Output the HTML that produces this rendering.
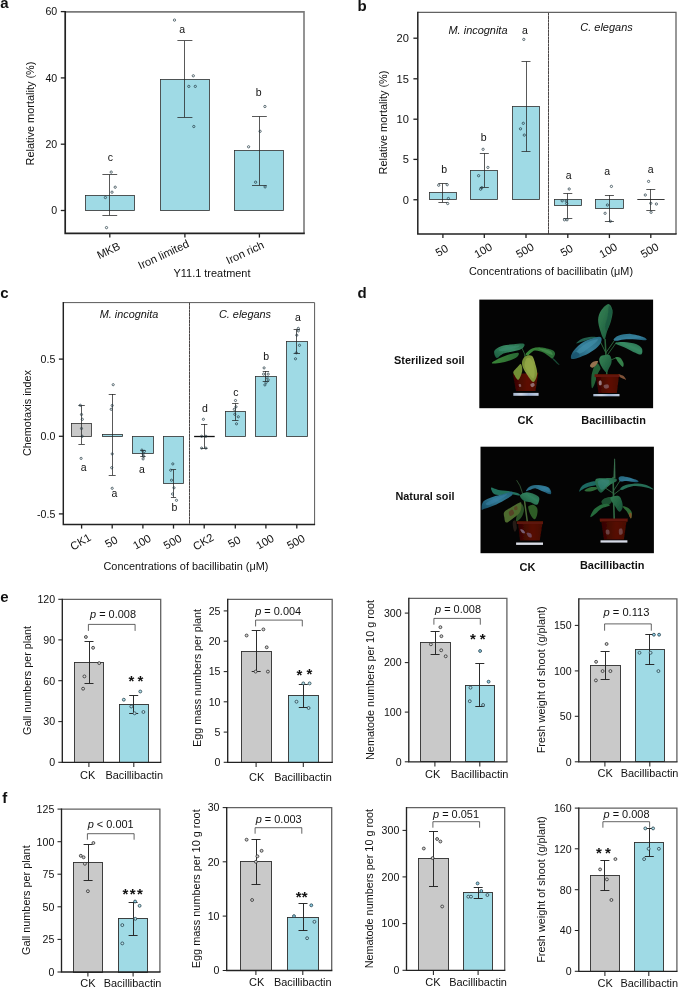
<!DOCTYPE html>
<html><head><meta charset="utf-8"><title>Figure</title>
<style>
html,body{margin:0;padding:0;background:#fff;}
body{width:685px;height:988px;overflow:hidden;}
svg{display:block;font-family:"Liberation Sans", sans-serif;will-change:transform;opacity:0.999;}
</style></head><body>
<svg width="685" height="988" viewBox="0 0 685 988">
<defs><filter id="bl" x="-5%" y="-5%" width="110%" height="110%"><feGaussianBlur stdDeviation="0.55"/><feComponentTransfer><feFuncR type="linear" slope="0.9"/><feFuncG type="linear" slope="0.9"/><feFuncB type="linear" slope="0.9"/></feComponentTransfer></filter>
<filter id="bl2" x="-5%" y="-5%" width="110%" height="110%"><feGaussianBlur stdDeviation="0.55"/><feComponentTransfer><feFuncR type="linear" slope="0.78"/><feFuncG type="linear" slope="0.78"/><feFuncB type="linear" slope="0.8"/></feComponentTransfer></filter>
<linearGradient id="gT" x1="0" y1="1" x2="1" y2="0"><stop offset="0" stop-color="#1d566e"/><stop offset="0.5" stop-color="#3a86a2"/><stop offset="1" stop-color="#2a7288"/></linearGradient>
<linearGradient id="gT2" x1="0" y1="0" x2="1" y2="1"><stop offset="0" stop-color="#2a7288"/><stop offset="0.6" stop-color="#3b88a6"/><stop offset="1" stop-color="#1f5a72"/></linearGradient>
<linearGradient id="gG" x1="0" y1="0" x2="1" y2="1"><stop offset="0" stop-color="#3a8c5c"/><stop offset="1" stop-color="#1e5a3c"/></linearGradient>
<linearGradient id="gG2" x1="0" y1="1" x2="1" y2="0"><stop offset="0" stop-color="#1f5f40"/><stop offset="0.6" stop-color="#3a9068"/><stop offset="1" stop-color="#286a4a"/></linearGradient>
<linearGradient id="gG3" x1="0" y1="0" x2="1" y2="0"><stop offset="0" stop-color="#3f8c3c"/><stop offset="1" stop-color="#2c6f3a"/></linearGradient>
<linearGradient id="gY" x1="0" y1="0" x2="1" y2="1"><stop offset="0" stop-color="#6f8a34"/><stop offset="0.5" stop-color="#96aa48"/><stop offset="1" stop-color="#7d9238"/></linearGradient>
<linearGradient id="gP" x1="0" y1="0" x2="1" y2="0"><stop offset="0" stop-color="#3c0d08"/><stop offset="0.6" stop-color="#641910"/><stop offset="1" stop-color="#521209"/></linearGradient>
<linearGradient id="gS" x1="0" y1="0" x2="1" y2="0"><stop offset="0" stop-color="#aebfd9"/><stop offset="0.3" stop-color="#d4deee"/><stop offset="0.6" stop-color="#a9bddc"/><stop offset="1" stop-color="#cad6ea"/></linearGradient>
</defs>
<rect width="685" height="988" fill="#fff"/>
<text x="0.30" y="8.40" font-size="15" text-anchor="start" fill="#111" font-weight="bold">a</text>
<rect x="85.50" y="195.50" width="49.00" height="15.00" fill="#9fdae5" stroke="#2e2e2e" stroke-width="0.8"/>
<rect x="160.50" y="79.50" width="49.00" height="131.00" fill="#9fdae5" stroke="#2e2e2e" stroke-width="0.8"/>
<rect x="234.50" y="150.50" width="49.00" height="60.00" fill="#9fdae5" stroke="#2e2e2e" stroke-width="0.8"/>
<line x1="109.50" y1="174.60" x2="109.50" y2="215.30" stroke="#222" stroke-width="0.75" />
<line x1="102.40" y1="174.50" x2="117.20" y2="174.50" stroke="#222" stroke-width="0.75" />
<line x1="102.40" y1="215.50" x2="117.20" y2="215.50" stroke="#222" stroke-width="0.75" />
<line x1="184.50" y1="40.90" x2="184.50" y2="117.20" stroke="#222" stroke-width="0.75" />
<line x1="177.40" y1="40.50" x2="192.40" y2="40.50" stroke="#222" stroke-width="0.75" />
<line x1="177.40" y1="117.50" x2="192.40" y2="117.50" stroke="#222" stroke-width="0.75" />
<line x1="259.50" y1="116.50" x2="259.50" y2="185.20" stroke="#222" stroke-width="0.75" />
<line x1="252.00" y1="116.50" x2="266.80" y2="116.50" stroke="#222" stroke-width="0.75" />
<line x1="252.00" y1="185.50" x2="266.80" y2="185.50" stroke="#222" stroke-width="0.75" />
<circle cx="111.20" cy="172.10" r="1.15" fill="none" stroke="#1f3640" stroke-width="0.7"/>
<circle cx="115.20" cy="187.20" r="1.15" fill="none" stroke="#1f3640" stroke-width="0.7"/>
<circle cx="112.00" cy="192.20" r="1.15" fill="none" stroke="#1f3640" stroke-width="0.7"/>
<circle cx="105.40" cy="197.50" r="1.15" fill="none" stroke="#1f3640" stroke-width="0.7"/>
<circle cx="106.50" cy="227.60" r="1.15" fill="none" stroke="#1f3640" stroke-width="0.7"/>
<circle cx="174.50" cy="20.10" r="1.15" fill="none" stroke="#1f3640" stroke-width="0.7"/>
<circle cx="193.30" cy="75.80" r="1.15" fill="none" stroke="#1f3640" stroke-width="0.7"/>
<circle cx="188.80" cy="86.40" r="1.15" fill="none" stroke="#1f3640" stroke-width="0.7"/>
<circle cx="195.30" cy="86.40" r="1.15" fill="none" stroke="#1f3640" stroke-width="0.7"/>
<circle cx="193.80" cy="126.50" r="1.15" fill="none" stroke="#1f3640" stroke-width="0.7"/>
<circle cx="264.90" cy="106.50" r="1.15" fill="none" stroke="#1f3640" stroke-width="0.7"/>
<circle cx="260.10" cy="131.30" r="1.15" fill="none" stroke="#1f3640" stroke-width="0.7"/>
<circle cx="248.60" cy="146.80" r="1.15" fill="none" stroke="#1f3640" stroke-width="0.7"/>
<circle cx="255.60" cy="182.20" r="1.15" fill="none" stroke="#1f3640" stroke-width="0.7"/>
<circle cx="265.10" cy="186.90" r="1.15" fill="none" stroke="#1f3640" stroke-width="0.7"/>
<text x="110.30" y="160.80" font-size="10.5" text-anchor="middle" fill="#111">c</text>
<text x="182.20" y="32.80" font-size="10.5" text-anchor="middle" fill="#111">a</text>
<text x="258.60" y="95.60" font-size="10.5" text-anchor="middle" fill="#111">b</text>
<polyline points="65.20,11.90 304.00,11.90 304.00,233.40" fill="none" stroke="#7a7a7a" stroke-width="1.6"/>
<polyline points="65.20,11.10 65.20,233.40 304.80,233.40" fill="none" stroke="#222" stroke-width="1.7"/>
<line x1="60.80" y1="11.60" x2="65.20" y2="11.60" stroke="#222" stroke-width="1.3"/>
<text x="57.20" y="15.42" font-size="10.6" text-anchor="end" fill="#111">60</text>
<line x1="60.80" y1="77.90" x2="65.20" y2="77.90" stroke="#222" stroke-width="1.3"/>
<text x="57.20" y="81.72" font-size="10.6" text-anchor="end" fill="#111">40</text>
<line x1="60.80" y1="144.20" x2="65.20" y2="144.20" stroke="#222" stroke-width="1.3"/>
<text x="57.20" y="148.02" font-size="10.6" text-anchor="end" fill="#111">20</text>
<line x1="60.80" y1="210.50" x2="65.20" y2="210.50" stroke="#222" stroke-width="1.3"/>
<text x="57.20" y="214.32" font-size="10.6" text-anchor="end" fill="#111">0</text>
<line x1="109.80" y1="233.40" x2="109.80" y2="237.60" stroke="#222" stroke-width="1.3"/>
<line x1="184.90" y1="233.40" x2="184.90" y2="237.60" stroke="#222" stroke-width="1.3"/>
<line x1="259.40" y1="233.40" x2="259.40" y2="237.60" stroke="#222" stroke-width="1.3"/>
<text x="108.50" y="250.50" font-size="11.2" text-anchor="middle" fill="#111" transform="rotate(-25 108.50 250.50)" dy="0.35em">MKB</text>
<text x="163.50" y="254.50" font-size="11.2" text-anchor="middle" fill="#111" transform="rotate(-25 163.50 254.50)" dy="0.35em">Iron limited</text>
<text x="245.00" y="252.50" font-size="11.2" text-anchor="middle" fill="#111" transform="rotate(-25 245.00 252.50)" dy="0.35em">Iron rich</text>
<text x="212.00" y="277.00" font-size="10.8" text-anchor="middle" fill="#111" textLength="77.0" lengthAdjust="spacingAndGlyphs">Y11.1 treatment</text>
<text x="30.00" y="113.50" font-size="10.8" text-anchor="middle" fill="#111" transform="rotate(-90 30.00 113.50)" textLength="104.0" lengthAdjust="spacingAndGlyphs" dy="0.35em">Relative mortality (%)</text>
<text x="357.60" y="11.00" font-size="15" text-anchor="start" fill="#111" font-weight="bold">b</text>
<rect x="429.50" y="192.50" width="27.00" height="7.00" fill="#9fdae5" stroke="#2e2e2e" stroke-width="0.8"/>
<rect x="470.50" y="170.50" width="27.00" height="29.00" fill="#9fdae5" stroke="#2e2e2e" stroke-width="0.8"/>
<rect x="512.50" y="106.50" width="27.00" height="93.00" fill="#9fdae5" stroke="#2e2e2e" stroke-width="0.8"/>
<rect x="554.50" y="199.50" width="27.00" height="6.00" fill="#9fdae5" stroke="#2e2e2e" stroke-width="0.8"/>
<rect x="595.50" y="199.50" width="28.00" height="9.00" fill="#9fdae5" stroke="#2e2e2e" stroke-width="0.8"/>
<line x1="637.30" y1="199.50" x2="664.60" y2="199.50" stroke="#222" stroke-width="0.9" />
<line x1="442.50" y1="183.40" x2="442.50" y2="202.30" stroke="#222" stroke-width="0.75" />
<line x1="438.40" y1="183.50" x2="447.40" y2="183.50" stroke="#222" stroke-width="0.75" />
<line x1="438.40" y1="202.50" x2="447.40" y2="202.50" stroke="#222" stroke-width="0.75" />
<line x1="484.50" y1="153.30" x2="484.50" y2="187.20" stroke="#222" stroke-width="0.75" />
<line x1="479.80" y1="153.50" x2="488.80" y2="153.50" stroke="#222" stroke-width="0.75" />
<line x1="479.80" y1="187.50" x2="488.80" y2="187.50" stroke="#222" stroke-width="0.75" />
<line x1="526.50" y1="61.50" x2="526.50" y2="151.50" stroke="#222" stroke-width="0.75" />
<line x1="521.50" y1="61.50" x2="530.50" y2="61.50" stroke="#222" stroke-width="0.75" />
<line x1="521.50" y1="151.50" x2="530.50" y2="151.50" stroke="#222" stroke-width="0.75" />
<line x1="567.50" y1="193.50" x2="567.50" y2="218.60" stroke="#222" stroke-width="0.75" />
<line x1="563.30" y1="193.50" x2="572.30" y2="193.50" stroke="#222" stroke-width="0.75" />
<line x1="563.30" y1="218.50" x2="572.30" y2="218.50" stroke="#222" stroke-width="0.75" />
<line x1="609.50" y1="195.20" x2="609.50" y2="221.60" stroke="#222" stroke-width="0.75" />
<line x1="604.90" y1="195.50" x2="613.90" y2="195.50" stroke="#222" stroke-width="0.75" />
<line x1="604.90" y1="221.50" x2="613.90" y2="221.50" stroke="#222" stroke-width="0.75" />
<line x1="650.50" y1="189.20" x2="650.50" y2="210.30" stroke="#222" stroke-width="0.75" />
<line x1="646.30" y1="189.50" x2="655.30" y2="189.50" stroke="#222" stroke-width="0.75" />
<line x1="646.30" y1="210.50" x2="655.30" y2="210.50" stroke="#222" stroke-width="0.75" />
<circle cx="438.70" cy="185.20" r="1.15" fill="none" stroke="#1f3640" stroke-width="0.7"/>
<circle cx="447.20" cy="184.70" r="1.15" fill="none" stroke="#1f3640" stroke-width="0.7"/>
<circle cx="448.40" cy="198.50" r="1.15" fill="none" stroke="#1f3640" stroke-width="0.7"/>
<circle cx="447.70" cy="203.50" r="1.15" fill="none" stroke="#1f3640" stroke-width="0.7"/>
<circle cx="483.10" cy="149.30" r="1.15" fill="none" stroke="#1f3640" stroke-width="0.7"/>
<circle cx="487.90" cy="167.40" r="1.15" fill="none" stroke="#1f3640" stroke-width="0.7"/>
<circle cx="478.60" cy="175.70" r="1.15" fill="none" stroke="#1f3640" stroke-width="0.7"/>
<circle cx="481.80" cy="187.70" r="1.15" fill="none" stroke="#1f3640" stroke-width="0.7"/>
<circle cx="480.60" cy="189.20" r="1.15" fill="none" stroke="#1f3640" stroke-width="0.7"/>
<circle cx="523.80" cy="39.40" r="1.15" fill="none" stroke="#1f3640" stroke-width="0.7"/>
<circle cx="523.30" cy="123.30" r="1.15" fill="none" stroke="#1f3640" stroke-width="0.7"/>
<circle cx="520.50" cy="128.80" r="1.15" fill="none" stroke="#1f3640" stroke-width="0.7"/>
<circle cx="524.30" cy="135.10" r="1.15" fill="none" stroke="#1f3640" stroke-width="0.7"/>
<circle cx="569.20" cy="189.00" r="1.15" fill="none" stroke="#1f3640" stroke-width="0.7"/>
<circle cx="562.20" cy="200.80" r="1.15" fill="none" stroke="#1f3640" stroke-width="0.7"/>
<circle cx="566.20" cy="201.00" r="1.15" fill="none" stroke="#1f3640" stroke-width="0.7"/>
<circle cx="566.70" cy="203.50" r="1.15" fill="none" stroke="#1f3640" stroke-width="0.7"/>
<circle cx="564.50" cy="219.80" r="1.15" fill="none" stroke="#1f3640" stroke-width="0.7"/>
<circle cx="567.00" cy="219.80" r="1.15" fill="none" stroke="#1f3640" stroke-width="0.7"/>
<circle cx="611.40" cy="186.40" r="1.15" fill="none" stroke="#1f3640" stroke-width="0.7"/>
<circle cx="607.40" cy="205.00" r="1.15" fill="none" stroke="#1f3640" stroke-width="0.7"/>
<circle cx="605.10" cy="213.30" r="1.15" fill="none" stroke="#1f3640" stroke-width="0.7"/>
<circle cx="610.40" cy="221.30" r="1.15" fill="none" stroke="#1f3640" stroke-width="0.7"/>
<circle cx="648.60" cy="181.40" r="1.15" fill="none" stroke="#1f3640" stroke-width="0.7"/>
<circle cx="645.30" cy="195.00" r="1.15" fill="none" stroke="#1f3640" stroke-width="0.7"/>
<circle cx="650.80" cy="203.30" r="1.15" fill="none" stroke="#1f3640" stroke-width="0.7"/>
<circle cx="656.40" cy="204.00" r="1.15" fill="none" stroke="#1f3640" stroke-width="0.7"/>
<circle cx="651.10" cy="212.30" r="1.15" fill="none" stroke="#1f3640" stroke-width="0.7"/>
<text x="444.20" y="172.90" font-size="10.5" text-anchor="middle" fill="#111">b</text>
<text x="483.60" y="141.00" font-size="10.5" text-anchor="middle" fill="#111">b</text>
<text x="524.80" y="33.90" font-size="10.5" text-anchor="middle" fill="#111">a</text>
<text x="568.70" y="179.20" font-size="10.5" text-anchor="middle" fill="#111">a</text>
<text x="607.10" y="174.60" font-size="10.5" text-anchor="middle" fill="#111">a</text>
<text x="650.60" y="172.90" font-size="10.5" text-anchor="middle" fill="#111">a</text>
<text x="478.00" y="33.90" font-size="10.8" text-anchor="middle" fill="#111" font-style="italic" textLength="59.0" lengthAdjust="spacingAndGlyphs">M. incognita</text>
<text x="606.50" y="31.10" font-size="10.8" text-anchor="middle" fill="#111" font-style="italic" textLength="52.5" lengthAdjust="spacingAndGlyphs">C. elegans</text>
<line x1="548.50" y1="12.40" x2="548.50" y2="233.90" stroke="#4a4545" stroke-width="1.0" stroke-dasharray="3.2 0.25"/>
<polyline points="417.80,12.40 676.00,12.40 676.00,233.90" fill="none" stroke="#626262" stroke-width="1.3"/>
<polyline points="417.80,11.75 417.80,233.90 676.65,233.90" fill="none" stroke="#222" stroke-width="1.5"/>
<line x1="413.40" y1="38.20" x2="417.80" y2="38.20" stroke="#222" stroke-width="1.3"/>
<text x="408.90" y="42.20" font-size="11.1" text-anchor="end" fill="#111">20</text>
<line x1="413.40" y1="78.80" x2="417.80" y2="78.80" stroke="#222" stroke-width="1.3"/>
<text x="408.90" y="82.80" font-size="11.1" text-anchor="end" fill="#111">15</text>
<line x1="413.40" y1="119.20" x2="417.80" y2="119.20" stroke="#222" stroke-width="1.3"/>
<text x="408.90" y="123.20" font-size="11.1" text-anchor="end" fill="#111">10</text>
<line x1="413.40" y1="159.40" x2="417.80" y2="159.40" stroke="#222" stroke-width="1.3"/>
<text x="408.90" y="163.40" font-size="11.1" text-anchor="end" fill="#111">5</text>
<line x1="413.40" y1="199.75" x2="417.80" y2="199.75" stroke="#222" stroke-width="1.3"/>
<text x="408.90" y="203.75" font-size="11.1" text-anchor="end" fill="#111">0</text>
<line x1="442.90" y1="233.90" x2="442.90" y2="238.10" stroke="#222" stroke-width="1.3"/>
<line x1="484.30" y1="233.90" x2="484.30" y2="238.10" stroke="#222" stroke-width="1.3"/>
<line x1="526.00" y1="233.90" x2="526.00" y2="238.10" stroke="#222" stroke-width="1.3"/>
<line x1="567.80" y1="233.90" x2="567.80" y2="238.10" stroke="#222" stroke-width="1.3"/>
<line x1="609.40" y1="233.90" x2="609.40" y2="238.10" stroke="#222" stroke-width="1.3"/>
<line x1="650.80" y1="233.90" x2="650.80" y2="238.10" stroke="#222" stroke-width="1.3"/>
<text x="441.70" y="250.40" font-size="11.2" text-anchor="middle" fill="#111" transform="rotate(-30 441.70 250.40)" dy="0.35em">50</text>
<text x="483.10" y="250.40" font-size="11.2" text-anchor="middle" fill="#111" transform="rotate(-30 483.10 250.40)" dy="0.35em">100</text>
<text x="524.80" y="250.40" font-size="11.2" text-anchor="middle" fill="#111" transform="rotate(-30 524.80 250.40)" dy="0.35em">500</text>
<text x="566.60" y="250.40" font-size="11.2" text-anchor="middle" fill="#111" transform="rotate(-30 566.60 250.40)" dy="0.35em">50</text>
<text x="608.20" y="250.40" font-size="11.2" text-anchor="middle" fill="#111" transform="rotate(-30 608.20 250.40)" dy="0.35em">100</text>
<text x="649.60" y="250.40" font-size="11.2" text-anchor="middle" fill="#111" transform="rotate(-30 649.60 250.40)" dy="0.35em">500</text>
<text x="551.00" y="275.20" font-size="10.8" text-anchor="middle" fill="#111" textLength="164.0" lengthAdjust="spacingAndGlyphs">Concentrations of bacillibatin (μM)</text>
<text x="383.20" y="122.50" font-size="10.8" text-anchor="middle" fill="#111" transform="rotate(-90 383.20 122.50)" textLength="104.0" lengthAdjust="spacingAndGlyphs" dy="0.35em">Relative mortality (%)</text>
<text x="0.30" y="297.60" font-size="15" text-anchor="start" fill="#111" font-weight="bold">c</text>
<rect x="71.50" y="423.50" width="20.00" height="13.00" fill="#c9c9c9" stroke="#2e2e2e" stroke-width="0.8"/>
<rect x="102.50" y="434.50" width="20.00" height="2.00" fill="#9fdae5" stroke="#2e2e2e" stroke-width="0.8"/>
<rect x="132.50" y="436.50" width="21.00" height="17.00" fill="#9fdae5" stroke="#2e2e2e" stroke-width="0.8"/>
<rect x="163.50" y="436.50" width="20.00" height="47.00" fill="#9fdae5" stroke="#2e2e2e" stroke-width="0.8"/>
<line x1="194.10" y1="436.50" x2="214.70" y2="436.50" stroke="#111" stroke-width="1.3" />
<rect x="225.50" y="411.50" width="20.00" height="25.00" fill="#9fdae5" stroke="#2e2e2e" stroke-width="0.8"/>
<rect x="255.50" y="376.50" width="21.00" height="60.00" fill="#9fdae5" stroke="#2e2e2e" stroke-width="0.8"/>
<rect x="286.50" y="341.50" width="21.00" height="95.00" fill="#9fdae5" stroke="#2e2e2e" stroke-width="0.8"/>
<line x1="81.50" y1="405.50" x2="81.50" y2="444.10" stroke="#222" stroke-width="0.75" />
<line x1="78.40" y1="405.50" x2="84.80" y2="405.50" stroke="#222" stroke-width="0.75" />
<line x1="78.40" y1="444.50" x2="84.80" y2="444.50" stroke="#222" stroke-width="0.75" />
<line x1="112.50" y1="394.00" x2="112.50" y2="475.20" stroke="#222" stroke-width="0.75" />
<line x1="108.70" y1="394.50" x2="115.70" y2="394.50" stroke="#222" stroke-width="0.75" />
<line x1="108.70" y1="475.50" x2="115.70" y2="475.50" stroke="#222" stroke-width="0.75" />
<line x1="142.50" y1="450.10" x2="142.50" y2="456.40" stroke="#222" stroke-width="0.75" />
<line x1="140.30" y1="450.50" x2="145.50" y2="450.50" stroke="#222" stroke-width="0.75" />
<line x1="140.30" y1="456.50" x2="145.50" y2="456.50" stroke="#222" stroke-width="0.75" />
<line x1="173.50" y1="469.70" x2="173.50" y2="497.30" stroke="#222" stroke-width="0.75" />
<line x1="170.90" y1="469.50" x2="176.10" y2="469.50" stroke="#222" stroke-width="0.75" />
<line x1="170.90" y1="497.50" x2="176.10" y2="497.50" stroke="#222" stroke-width="0.75" />
<line x1="204.50" y1="424.00" x2="204.50" y2="448.10" stroke="#222" stroke-width="0.75" />
<line x1="201.00" y1="424.50" x2="207.40" y2="424.50" stroke="#222" stroke-width="0.75" />
<line x1="201.00" y1="448.50" x2="207.40" y2="448.50" stroke="#222" stroke-width="0.75" />
<line x1="235.50" y1="403.50" x2="235.50" y2="420.60" stroke="#222" stroke-width="0.75" />
<line x1="232.10" y1="403.50" x2="238.50" y2="403.50" stroke="#222" stroke-width="0.75" />
<line x1="232.10" y1="420.50" x2="238.50" y2="420.50" stroke="#222" stroke-width="0.75" />
<line x1="265.50" y1="371.10" x2="265.50" y2="381.70" stroke="#222" stroke-width="0.75" />
<line x1="262.70" y1="371.50" x2="269.10" y2="371.50" stroke="#222" stroke-width="0.75" />
<line x1="262.70" y1="381.50" x2="269.10" y2="381.50" stroke="#222" stroke-width="0.75" />
<line x1="296.50" y1="329.70" x2="296.50" y2="353.80" stroke="#222" stroke-width="0.75" />
<line x1="293.60" y1="329.50" x2="300.00" y2="329.50" stroke="#222" stroke-width="0.75" />
<line x1="293.60" y1="353.50" x2="300.00" y2="353.50" stroke="#222" stroke-width="0.75" />
<circle cx="80.30" cy="405.30" r="1.1" fill="none" stroke="#1f3640" stroke-width="0.7"/>
<circle cx="81.50" cy="414.50" r="1.1" fill="none" stroke="#1f3640" stroke-width="0.7"/>
<circle cx="82.30" cy="419.30" r="1.1" fill="none" stroke="#1f3640" stroke-width="0.7"/>
<circle cx="81.50" cy="428.50" r="1.1" fill="none" stroke="#1f3640" stroke-width="0.7"/>
<circle cx="82.20" cy="436.30" r="1.1" fill="none" stroke="#1f3640" stroke-width="0.7"/>
<circle cx="81.10" cy="458.40" r="1.1" fill="none" stroke="#1f3640" stroke-width="0.7"/>
<circle cx="113.20" cy="384.70" r="1.1" fill="none" stroke="#1f3640" stroke-width="0.7"/>
<circle cx="112.20" cy="405.50" r="1.1" fill="none" stroke="#1f3640" stroke-width="0.7"/>
<circle cx="111.20" cy="409.30" r="1.1" fill="none" stroke="#1f3640" stroke-width="0.7"/>
<circle cx="112.20" cy="453.90" r="1.1" fill="none" stroke="#1f3640" stroke-width="0.7"/>
<circle cx="111.70" cy="467.70" r="1.1" fill="none" stroke="#1f3640" stroke-width="0.7"/>
<circle cx="112.20" cy="488.30" r="1.1" fill="none" stroke="#1f3640" stroke-width="0.7"/>
<circle cx="141.90" cy="450.10" r="1.1" fill="none" stroke="#1f3640" stroke-width="0.7"/>
<circle cx="144.40" cy="451.40" r="1.1" fill="none" stroke="#1f3640" stroke-width="0.7"/>
<circle cx="143.10" cy="453.90" r="1.1" fill="none" stroke="#1f3640" stroke-width="0.7"/>
<circle cx="143.60" cy="456.40" r="1.1" fill="none" stroke="#1f3640" stroke-width="0.7"/>
<circle cx="143.10" cy="458.90" r="1.1" fill="none" stroke="#1f3640" stroke-width="0.7"/>
<circle cx="172.80" cy="463.90" r="1.1" fill="none" stroke="#1f3640" stroke-width="0.7"/>
<circle cx="170.70" cy="470.20" r="1.1" fill="none" stroke="#1f3640" stroke-width="0.7"/>
<circle cx="171.50" cy="480.20" r="1.1" fill="none" stroke="#1f3640" stroke-width="0.7"/>
<circle cx="174.00" cy="487.80" r="1.1" fill="none" stroke="#1f3640" stroke-width="0.7"/>
<circle cx="172.50" cy="494.00" r="1.1" fill="none" stroke="#1f3640" stroke-width="0.7"/>
<circle cx="176.50" cy="500.30" r="1.1" fill="none" stroke="#1f3640" stroke-width="0.7"/>
<circle cx="203.40" cy="419.30" r="1.1" fill="none" stroke="#1f3640" stroke-width="0.7"/>
<circle cx="201.60" cy="436.30" r="1.1" fill="none" stroke="#1f3640" stroke-width="0.7"/>
<circle cx="205.90" cy="436.30" r="1.1" fill="none" stroke="#1f3640" stroke-width="0.7"/>
<circle cx="201.60" cy="448.10" r="1.1" fill="none" stroke="#1f3640" stroke-width="0.7"/>
<circle cx="205.90" cy="448.10" r="1.1" fill="none" stroke="#1f3640" stroke-width="0.7"/>
<circle cx="235.50" cy="400.50" r="1.1" fill="none" stroke="#1f3640" stroke-width="0.7"/>
<circle cx="234.30" cy="409.30" r="1.1" fill="none" stroke="#1f3640" stroke-width="0.7"/>
<circle cx="236.00" cy="406.80" r="1.1" fill="none" stroke="#1f3640" stroke-width="0.7"/>
<circle cx="234.80" cy="414.30" r="1.1" fill="none" stroke="#1f3640" stroke-width="0.7"/>
<circle cx="238.30" cy="416.80" r="1.1" fill="none" stroke="#1f3640" stroke-width="0.7"/>
<circle cx="236.50" cy="423.80" r="1.1" fill="none" stroke="#1f3640" stroke-width="0.7"/>
<circle cx="264.10" cy="367.90" r="1.1" fill="none" stroke="#1f3640" stroke-width="0.7"/>
<circle cx="263.60" cy="374.10" r="1.1" fill="none" stroke="#1f3640" stroke-width="0.7"/>
<circle cx="268.20" cy="374.10" r="1.1" fill="none" stroke="#1f3640" stroke-width="0.7"/>
<circle cx="266.90" cy="377.40" r="1.1" fill="none" stroke="#1f3640" stroke-width="0.7"/>
<circle cx="268.20" cy="379.90" r="1.1" fill="none" stroke="#1f3640" stroke-width="0.7"/>
<circle cx="266.10" cy="382.40" r="1.1" fill="none" stroke="#1f3640" stroke-width="0.7"/>
<circle cx="264.90" cy="384.90" r="1.1" fill="none" stroke="#1f3640" stroke-width="0.7"/>
<circle cx="298.30" cy="328.40" r="1.1" fill="none" stroke="#1f3640" stroke-width="0.7"/>
<circle cx="298.30" cy="330.90" r="1.1" fill="none" stroke="#1f3640" stroke-width="0.7"/>
<circle cx="296.80" cy="335.20" r="1.1" fill="none" stroke="#1f3640" stroke-width="0.7"/>
<circle cx="299.50" cy="345.30" r="1.1" fill="none" stroke="#1f3640" stroke-width="0.7"/>
<circle cx="296.30" cy="352.80" r="1.1" fill="none" stroke="#1f3640" stroke-width="0.7"/>
<circle cx="295.50" cy="358.80" r="1.1" fill="none" stroke="#1f3640" stroke-width="0.7"/>
<text x="83.60" y="471.00" font-size="10.5" text-anchor="middle" fill="#111">a</text>
<text x="114.50" y="497.30" font-size="10.5" text-anchor="middle" fill="#111">a</text>
<text x="141.90" y="472.70" font-size="10.5" text-anchor="middle" fill="#111">a</text>
<text x="174.50" y="511.10" font-size="10.5" text-anchor="middle" fill="#111">b</text>
<text x="204.90" y="411.80" font-size="10.5" text-anchor="middle" fill="#111">d</text>
<text x="235.80" y="395.50" font-size="10.5" text-anchor="middle" fill="#111">c</text>
<text x="266.10" y="359.60" font-size="10.5" text-anchor="middle" fill="#111">b</text>
<text x="298.00" y="320.70" font-size="10.5" text-anchor="middle" fill="#111">a</text>
<text x="129.00" y="318.40" font-size="10.8" text-anchor="middle" fill="#111" font-style="italic" textLength="58.5" lengthAdjust="spacingAndGlyphs">M. incognita</text>
<text x="245.00" y="318.40" font-size="10.8" text-anchor="middle" fill="#111" font-style="italic" textLength="52.2" lengthAdjust="spacingAndGlyphs">C. elegans</text>
<line x1="189.50" y1="302.60" x2="189.50" y2="524.40" stroke="#4a4545" stroke-width="1.0" stroke-dasharray="3.2 0.25"/>
<polyline points="63.30,302.60 314.60,302.60 314.60,524.40" fill="none" stroke="#5a5a5a" stroke-width="1.0"/>
<polyline points="63.30,302.10 63.30,524.40 315.10,524.40" fill="none" stroke="#222" stroke-width="1.45"/>
<line x1="58.90" y1="359.10" x2="63.30" y2="359.10" stroke="#222" stroke-width="1.3"/>
<text x="55.30" y="362.92" font-size="10.6" text-anchor="end" fill="#111">0.5</text>
<line x1="58.90" y1="436.30" x2="63.30" y2="436.30" stroke="#222" stroke-width="1.3"/>
<text x="55.30" y="440.12" font-size="10.6" text-anchor="end" fill="#111">0.0</text>
<line x1="58.90" y1="513.90" x2="63.30" y2="513.90" stroke="#222" stroke-width="1.3"/>
<text x="55.30" y="517.72" font-size="10.6" text-anchor="end" fill="#111">-0.5</text>
<line x1="81.60" y1="524.40" x2="81.60" y2="528.60" stroke="#222" stroke-width="1.3"/>
<line x1="112.20" y1="524.40" x2="112.20" y2="528.60" stroke="#222" stroke-width="1.3"/>
<line x1="142.90" y1="524.40" x2="142.90" y2="528.60" stroke="#222" stroke-width="1.3"/>
<line x1="173.50" y1="524.40" x2="173.50" y2="528.60" stroke="#222" stroke-width="1.3"/>
<line x1="204.20" y1="524.40" x2="204.20" y2="528.60" stroke="#222" stroke-width="1.3"/>
<line x1="235.30" y1="524.40" x2="235.30" y2="528.60" stroke="#222" stroke-width="1.3"/>
<line x1="265.90" y1="524.40" x2="265.90" y2="528.60" stroke="#222" stroke-width="1.3"/>
<line x1="296.80" y1="524.40" x2="296.80" y2="528.60" stroke="#222" stroke-width="1.3"/>
<text x="80.60" y="541.80" font-size="11.2" text-anchor="middle" fill="#111" transform="rotate(-30 80.60 541.80)" dy="0.35em">CK1</text>
<text x="111.20" y="541.80" font-size="11.2" text-anchor="middle" fill="#111" transform="rotate(-30 111.20 541.80)" dy="0.35em">50</text>
<text x="141.90" y="541.80" font-size="11.2" text-anchor="middle" fill="#111" transform="rotate(-30 141.90 541.80)" dy="0.35em">100</text>
<text x="172.50" y="541.80" font-size="11.2" text-anchor="middle" fill="#111" transform="rotate(-30 172.50 541.80)" dy="0.35em">500</text>
<text x="203.20" y="541.80" font-size="11.2" text-anchor="middle" fill="#111" transform="rotate(-30 203.20 541.80)" dy="0.35em">CK2</text>
<text x="234.30" y="541.80" font-size="11.2" text-anchor="middle" fill="#111" transform="rotate(-30 234.30 541.80)" dy="0.35em">50</text>
<text x="264.90" y="541.80" font-size="11.2" text-anchor="middle" fill="#111" transform="rotate(-30 264.90 541.80)" dy="0.35em">100</text>
<text x="295.80" y="541.80" font-size="11.2" text-anchor="middle" fill="#111" transform="rotate(-30 295.80 541.80)" dy="0.35em">500</text>
<text x="186.00" y="570.30" font-size="10.8" text-anchor="middle" fill="#111" textLength="165.0" lengthAdjust="spacingAndGlyphs">Concentrations of bacillibatin (μM)</text>
<text x="27.60" y="413.00" font-size="10.8" text-anchor="middle" fill="#111" transform="rotate(-90 27.60 413.00)" textLength="86.0" lengthAdjust="spacingAndGlyphs" dy="0.35em">Chemotaxis index</text>
<text x="357.60" y="297.60" font-size="15" text-anchor="start" fill="#111" font-weight="bold">d</text>
<text x="429.30" y="364.30" font-size="11" text-anchor="middle" fill="#111" font-weight="bold" textLength="70.5" lengthAdjust="spacingAndGlyphs">Sterilized soil</text>
<text x="425.00" y="500.30" font-size="11" text-anchor="middle" fill="#111" font-weight="bold" textLength="59.0" lengthAdjust="spacingAndGlyphs">Natural soil</text>
<rect x="479.3" y="299.6" width="173.8" height="108.6" fill="#040404"/>
<g filter="url(#bl)">
<polyline points="524.7,354.9 525.9,363.5 526.6,372.2" fill="none" stroke="#2d5a35" stroke-width="1.3" stroke-linecap="round" stroke-linejoin="round"/>
<polyline points="522.2,348.6 525.3,355.5" fill="none" stroke="#2d5a35" stroke-width="1.0" stroke-linecap="round" stroke-linejoin="round"/>
<polyline points="527.8,355.5 532.1,349.3" fill="none" stroke="#2d5a35" stroke-width="1.0" stroke-linecap="round" stroke-linejoin="round"/>
<path d="M494.3,351.1C495.0,349.2 497.9,347.3 501.1,346.2C504.3,345.0 509.7,344.7 513.5,344.3C517.4,343.9 522.6,343.2 524.1,343.9C525.5,344.7 523.8,347.4 522.2,348.6C520.7,349.8 517.9,350.3 514.8,351.1C511.7,352.0 506.6,352.5 503.6,353.6C500.6,354.7 498.3,358.4 496.8,358.0C495.2,357.5 493.6,353.1 494.3,351.1Z" fill="url(#gG2)" opacity="1"/>
<path d="M498.6,349.9C499.3,349.2 503.8,347.5 507.3,346.8C510.8,346.1 518.7,345.2 519.7,345.5C520.8,345.9 516.2,347.7 513.5,348.6C510.8,349.6 506.1,350.9 503.6,351.1C501.1,351.3 498.0,350.6 498.6,349.9Z" fill="#3f9070" opacity="0.75"/>
<path d="M491.8,362.9C492.2,362.0 496.9,359.4 499.9,358.0C502.9,356.5 506.7,355.1 509.8,354.2C512.9,353.4 517.4,352.4 518.5,353.0C519.6,353.5 518.1,356.2 516.3,357.6C514.4,359.0 510.5,360.4 507.3,361.3C504.2,362.3 500.0,363.0 497.4,363.3C494.8,363.6 491.4,363.8 491.8,362.9Z" fill="url(#gG3)" opacity="1"/>
<path d="M525.9,353.6C526.7,352.5 529.7,349.7 532.1,348.6C534.6,347.6 537.5,347.2 540.8,347.4C544.1,347.6 549.6,348.9 552.0,349.9C554.4,350.9 555.0,352.2 555.1,353.6C555.2,355.1 553.5,358.1 552.6,358.6C551.7,359.1 551.1,357.7 549.5,356.7C548.0,355.7 545.8,353.4 543.3,352.4C540.8,351.3 537.2,350.0 534.6,350.5C532.0,351.0 529.3,355.0 527.8,355.5C526.4,356.0 525.2,354.7 525.9,353.6Z" fill="url(#gG3)" opacity="1"/>
<path d="M538.3,348.6C538.8,348.2 547.1,349.5 549.5,350.5C551.9,351.5 553.0,354.4 552.6,354.9C552.2,355.3 549.4,354.0 547.0,353.0C544.7,352.0 537.9,349.1 538.3,348.6Z" fill="#4f9a55" opacity="0.7"/>
<path d="M552.6,358.0C553.0,358.1 554.5,359.3 555.7,360.4C556.9,361.6 559.6,364.6 559.7,365.0C559.8,365.4 557.4,363.8 556.3,362.9C555.3,362.0 553.9,360.6 553.2,359.8C552.6,359.0 552.2,357.8 552.6,358.0Z" fill="#1f4f3a" opacity="1"/>
<polygon points="512.9,374.1 538.3,372.8 535.5,391.1 516.0,391.1" fill="url(#gP)" opacity="1"/>
<path d="M518.7,384.4C518.9,383.9 520.1,383.8 520.5,384.1C520.9,384.5 521.4,386.0 521.2,386.5C521.0,386.9 519.8,387.2 519.4,386.9C519.0,386.5 518.6,384.8 518.7,384.4Z" fill="#a88f98" opacity="0.6"/>
<path d="M530.4,384.4C530.7,383.7 532.9,382.9 533.6,383.1C534.3,383.3 534.9,385.0 534.6,385.6C534.3,386.3 532.6,387.3 531.9,387.1C531.2,386.9 530.1,385.0 530.4,384.4Z" fill="#b8a4ac" opacity="0.65"/>
<path d="M521.0,364.2C521.8,364.8 522.6,368.4 522.2,371.0C521.8,373.6 519.8,379.0 518.5,379.7C517.2,380.3 515.0,376.0 514.2,374.7C513.3,373.4 513.0,372.8 513.5,371.6C514.1,370.4 516.0,368.5 517.3,367.3C518.5,366.0 520.2,363.5 521.0,364.2Z" fill="#78963a" opacity="1"/>
<path d="M525.9,356.1C527.6,355.3 530.5,354.4 532.1,356.1C533.8,357.7 535.0,362.9 535.9,366.0C536.7,369.1 537.5,372.1 537.1,374.7C536.7,377.3 535.0,381.9 533.4,381.9C531.7,381.9 528.9,377.1 527.2,374.7C525.4,372.3 523.7,369.5 522.8,367.3C522.0,365.0 521.7,362.9 522.2,361.1C522.7,359.2 524.3,356.9 525.9,356.1Z" fill="url(#gY)" opacity="1"/>
<path d="M526.6,358.6C527.6,357.4 529.7,357.7 530.9,359.2C532.1,360.6 533.4,364.7 534.0,367.3C534.6,369.8 534.8,372.8 534.6,374.7C534.4,376.6 533.8,378.8 532.8,378.4C531.7,378.0 529.8,374.3 528.4,372.2C527.1,370.2 525.0,368.3 524.7,366.0C524.4,363.7 525.5,359.7 526.6,358.6Z" fill="#9bb04a" opacity="0.8"/>
<polygon points="513.3,392.9 538.6,392.9 538.6,395.8 513.3,395.8" fill="url(#gS)" opacity="1"/>
<polyline points="605.1,339.4 606.0,356.5 606.8,374.2" fill="none" stroke="#2f6a40" stroke-width="1.5" stroke-linecap="round" stroke-linejoin="round"/>
<polyline points="605.7,352.6 600.5,342.0" fill="none" stroke="#2f6a40" stroke-width="1.0" stroke-linecap="round" stroke-linejoin="round"/>
<polyline points="606.0,352.6 614.3,340.7" fill="none" stroke="#2f6a40" stroke-width="1.0" stroke-linecap="round" stroke-linejoin="round"/>
<polyline points="606.3,356.5 616.2,342.7" fill="none" stroke="#2f6a40" stroke-width="0.9" stroke-linecap="round" stroke-linejoin="round"/>
<polyline points="606.5,361.8 616.2,357.8" fill="none" stroke="#2f6a40" stroke-width="0.9" stroke-linecap="round" stroke-linejoin="round"/>
<path d="M576.2,343.4C576.4,342.8 579.6,339.9 582.1,338.8C584.6,337.7 588.8,337.0 591.3,336.8C593.8,336.6 597.6,337.0 597.2,337.5C596.8,337.9 591.4,338.7 588.7,339.4C585.9,340.2 582.8,341.4 580.8,342.0C578.7,342.7 576.0,343.9 576.2,343.4Z" fill="#256552" opacity="1"/>
<path d="M570.9,356.5C571.1,355.0 572.1,352.3 574.2,349.9C576.3,347.5 579.9,344.1 583.4,342.0C586.9,340.0 592.3,338.2 595.2,337.5C598.2,336.7 600.3,336.5 601.1,337.5C602.0,338.4 601.7,341.3 600.5,343.4C599.3,345.4 596.8,347.9 593.9,349.9C591.1,352.0 586.9,354.3 583.4,355.8C579.9,357.4 575.0,359.0 572.9,359.1C570.8,359.2 570.7,358.0 570.9,356.5Z" fill="url(#gT)" opacity="1"/>
<path d="M576.8,351.2C577.9,349.5 583.8,344.7 587.3,342.7C590.8,340.7 597.2,338.9 597.9,339.4C598.5,340.0 594.1,343.7 591.3,346.0C588.4,348.3 583.2,352.3 580.8,353.2C578.4,354.1 575.7,353.0 576.8,351.2Z" fill="#4a9ab5" opacity="0.6"/>
<path d="M572.2,354.5C572.7,353.5 575.6,351.8 576.8,351.9C578.0,352.0 579.9,354.2 579.5,355.2C579.0,356.2 575.4,357.9 574.2,357.8C573.0,357.7 571.8,355.5 572.2,354.5Z" fill="#1f5a75" opacity="0.8"/>
<path d="M608.4,303.9C610.3,303.9 612.1,307.7 612.6,310.5C613.0,313.4 611.9,317.5 611.0,321.0C610.1,324.5 608.1,328.5 607.0,331.5C606.0,334.6 605.5,339.4 604.4,339.4C603.3,339.4 601.5,334.8 600.5,331.5C599.4,328.3 598.0,323.2 598.1,319.7C598.2,316.2 599.4,313.1 601.1,310.5C602.8,307.9 606.5,303.9 608.4,303.9Z" fill="url(#gG)" opacity="1"/>
<path d="M609.0,305.9C609.7,305.1 611.8,308.7 612.0,311.2C612.3,313.7 611.2,317.7 610.3,321.0C609.5,324.3 607.7,330.0 606.8,330.9C605.9,331.8 604.9,328.8 605.1,326.3C605.2,323.8 607.0,319.2 607.7,315.8C608.4,312.4 608.3,306.7 609.0,305.9Z" fill="#235f45" opacity="0.8"/>
<path d="M613.6,339.4C614.1,338.5 616.0,336.4 618.9,335.5C621.7,334.6 626.8,333.7 630.7,333.9C634.6,334.1 639.9,335.8 642.5,336.8C645.2,337.8 647.6,339.6 646.5,340.1C645.4,340.5 639.7,339.5 636.0,339.4C632.2,339.3 627.4,339.2 624.1,339.4C620.8,339.6 618.0,340.7 616.2,340.7C614.5,340.7 613.2,340.3 613.6,339.4Z" fill="url(#gT2)" opacity="1"/>
<path d="M615.6,342.7C616.7,342.3 620.7,341.8 624.1,342.0C627.5,342.3 633.0,342.9 636.0,344.0C638.9,345.1 641.0,346.9 641.9,348.6C642.7,350.4 642.6,354.0 641.2,354.5C639.8,355.1 636.2,353.1 633.3,351.9C630.5,350.7 626.8,348.5 624.1,347.3C621.5,346.1 619.0,345.4 617.6,344.7C616.1,343.9 614.5,343.1 615.6,342.7Z" fill="url(#gG2)" opacity="1"/>
<path d="M603.1,355.2C604.6,355.0 608.3,354.1 609.7,355.2C611.1,356.3 611.8,359.6 611.6,361.8C611.5,364.0 609.9,366.6 609.0,368.3C608.1,370.1 607.6,372.5 606.4,372.3C605.2,372.1 603.0,369.0 601.8,367.0C600.6,365.0 599.4,362.2 599.2,360.4C598.9,358.7 599.8,357.4 600.5,356.5C601.1,355.6 601.6,355.4 603.1,355.2Z" fill="url(#gG)" opacity="1"/>
<path d="M615.6,357.2C616.2,356.9 618.9,356.8 620.2,357.8C621.5,358.8 623.0,361.5 623.5,363.1C623.9,364.6 623.6,367.0 622.8,367.0C622.1,367.0 620.0,364.4 618.9,363.1C617.8,361.8 616.8,360.1 616.2,359.1C615.7,358.1 614.9,357.4 615.6,357.2Z" fill="#38864e" opacity="1"/>
<path d="M596.5,363.1C597.9,362.6 600.3,366.6 600.5,368.3C600.7,370.1 598.8,371.0 597.9,373.6C596.9,376.2 595.6,381.7 594.6,384.1C593.6,386.5 592.5,388.9 591.9,388.0C591.4,387.2 591.2,381.7 591.3,378.8C591.4,376.0 591.7,373.6 592.6,371.0C593.5,368.3 595.2,363.5 596.5,363.1Z" fill="#28653a" opacity="1"/>
<path d="M590.0,365.7C590.1,364.7 591.9,362.5 593.3,361.8C594.6,361.0 597.3,360.7 597.9,361.1C598.4,361.5 597.4,363.3 596.5,364.4C595.7,365.5 593.7,367.5 592.6,367.7C591.5,367.9 589.9,366.7 590.0,365.7Z" fill="#9d7855" opacity="1"/>
<path d="M618.2,374.2C618.7,374.0 621.5,374.7 622.8,375.6C624.1,376.4 625.9,378.9 626.1,379.5C626.3,380.1 625.1,379.5 624.1,379.1C623.1,378.7 621.2,378.1 620.2,377.3C619.2,376.5 617.8,374.5 618.2,374.2Z" fill="#87583e" opacity="1"/>
<polygon points="594.6,374.2 619.5,374.2 619.5,377.1 594.6,377.1" fill="#6a1a12" opacity="1"/>
<polygon points="595.9,377.1 618.9,377.1 616.9,392.9 598.5,392.9" fill="url(#gP)" opacity="1"/>
<path d="M598.9,381.2C599.3,380.5 600.8,380.4 601.3,380.9C601.7,381.5 601.9,384.1 601.5,384.8C601.2,385.4 599.6,385.6 599.2,385.0C598.7,384.4 598.6,381.9 598.9,381.2Z" fill="#c8b4be" opacity="0.7"/>
<path d="M603.8,385.2C604.3,384.5 607.3,384.2 608.1,384.6C608.9,385.1 609.2,387.2 608.6,387.8C608.1,388.4 605.5,388.7 604.7,388.3C603.9,387.9 603.2,385.8 603.8,385.2Z" fill="#a88f9c" opacity="0.5"/>
<polygon points="593.3,394.0 619.5,394.0 619.5,396.3 593.3,396.3" fill="url(#gS)" opacity="1"/>
</g>
<text x="525.50" y="424.30" font-size="11" text-anchor="middle" fill="#111" font-weight="bold">CK</text>
<text x="613.60" y="424.30" font-size="11" text-anchor="middle" fill="#111" font-weight="bold" textLength="64.5" lengthAdjust="spacingAndGlyphs">Bacillibactin</text>
<rect x="480.5" y="446.7" width="173.4" height="106.5" fill="#040404"/>
<g filter="url(#bl2)">
<polyline points="516.8,480.5 520.0,485.8 522.0,491.7 523.3,496.3" fill="none" stroke="#3f6a40" stroke-width="0.8" stroke-linecap="round" stroke-linejoin="round"/>
<polyline points="524.6,501.5 526.0,512.0 527.3,521.5" fill="none" stroke="#55783f" stroke-width="1.5" stroke-linecap="round" stroke-linejoin="round"/>
<path d="M491.1,487.7C491.8,487.1 494.9,489.2 497.7,489.7C500.6,490.3 504.9,490.5 508.2,491.0C511.5,491.6 515.5,492.2 517.4,493.0C519.4,493.8 521.1,495.4 520.0,495.6C519.0,495.8 514.1,494.4 510.9,494.3C507.6,494.2 503.2,495.1 500.3,495.0C497.5,494.9 495.3,494.9 493.8,493.7C492.2,492.4 490.5,488.4 491.1,487.7Z" fill="#2c8068" opacity="1"/>
<path d="M481.7,509.4C481.5,508.2 481.5,503.6 483.3,501.5C485.1,499.5 489.0,498.3 492.5,496.9C496.0,495.6 501.1,494.5 504.3,493.7C507.5,492.8 510.2,491.5 511.5,491.7C512.8,491.9 513.4,493.5 512.2,495.0C511.0,496.4 507.3,498.5 504.3,500.2C501.2,502.0 497.1,504.1 493.8,505.5C490.5,506.9 486.6,508.1 484.6,508.8C482.6,509.4 481.9,510.6 481.7,509.4Z" fill="url(#gT)" opacity="1"/>
<path d="M485.9,503.5C486.8,502.4 491.6,499.8 495.1,498.3C498.6,496.7 506.0,494.1 506.9,494.3C507.8,494.5 503.2,497.8 500.3,499.6C497.5,501.3 492.2,504.2 489.8,504.8C487.4,505.5 485.0,504.6 485.9,503.5Z" fill="#3f8fb5" opacity="0.6"/>
<path d="M526.0,491.0C525.9,490.5 527.8,487.4 529.9,486.4C532.0,485.4 535.5,485.0 538.4,485.1C541.4,485.2 545.6,486.1 547.6,487.1C549.7,488.1 550.5,489.8 550.9,491.0C551.4,492.2 551.5,494.2 550.3,494.3C549.1,494.4 546.1,492.7 543.7,491.7C541.3,490.7 538.0,488.7 535.8,488.4C533.6,488.1 532.2,489.3 530.6,489.7C528.9,490.1 526.1,491.6 526.0,491.0Z" fill="url(#gT2)" opacity="1"/>
<path d="M537.1,486.0C537.7,485.7 544.8,486.7 547.0,487.7C549.1,488.8 550.6,492.0 550.0,492.3C549.5,492.7 545.8,490.8 543.7,489.7C541.6,488.7 536.6,486.4 537.1,486.0Z" fill="#3c8fb0" opacity="0.6"/>
<path d="M521.4,504.2C522.5,503.5 524.0,507.2 524.0,509.4C524.0,511.6 522.7,515.3 521.4,517.3C520.0,519.3 516.8,521.9 516.1,521.2C515.5,520.6 516.5,516.2 517.4,513.4C518.3,510.5 520.3,504.8 521.4,504.2Z" fill="#335c2e" opacity="1"/>
<path d="M528.6,506.1C529.4,505.4 531.8,504.5 533.2,504.8C534.6,505.2 536.5,506.5 537.1,508.1C537.8,509.8 537.6,512.8 537.1,514.7C536.7,516.5 535.6,519.3 534.5,519.3C533.4,519.3 531.5,516.3 530.6,514.7C529.6,513.0 528.9,510.8 528.6,509.4C528.3,508.0 527.8,506.9 528.6,506.1Z" fill="#38672f" opacity="1"/>
<path d="M520.0,495.6C520.5,494.2 524.2,492.6 526.6,492.3C529.0,492.1 532.4,493.4 534.5,494.3C536.6,495.2 538.4,496.2 539.1,497.6C539.8,499.0 539.0,501.6 538.4,502.9C537.9,504.1 537.1,504.9 535.8,504.8C534.5,504.7 532.5,502.9 530.6,502.2C528.6,501.5 525.7,502.0 524.0,500.9C522.2,499.8 519.6,497.0 520.0,495.6Z" fill="url(#gG2)" opacity="1"/>
<path d="M504.3,512.0C505.4,510.4 508.4,509.0 510.9,507.5C513.3,505.9 517.0,503.5 518.7,502.9C520.5,502.2 521.1,502.0 521.4,503.5C521.6,505.0 521.4,509.6 520.0,512.0C518.7,514.5 515.8,516.2 513.5,518.0C511.2,519.7 507.8,522.7 506.3,522.6C504.7,522.5 504.6,519.1 504.3,517.3C504.0,515.6 503.2,513.7 504.3,512.0Z" fill="#587836" opacity="1"/>
<path d="M508.9,512.0C509.2,511.0 511.3,509.2 512.2,509.4C513.0,509.6 514.5,512.3 514.1,513.4C513.8,514.5 511.1,516.2 510.2,516.0C509.3,515.8 508.6,513.1 508.9,512.0Z" fill="#6a3a2c" opacity="0.7"/>
<path d="M514.1,507.5C514.5,506.8 516.2,505.8 516.8,506.1C517.3,506.5 517.8,508.8 517.4,509.4C517.1,510.1 515.3,510.4 514.8,510.1C514.2,509.8 513.8,508.1 514.1,507.5Z" fill="#6a3a2c" opacity="0.6"/>
<path d="M512.8,521.9C513.2,520.7 514.8,519.6 515.5,520.6C516.1,521.6 516.9,526.0 516.8,527.8C516.7,529.7 515.4,531.8 514.8,531.8C514.2,531.8 513.5,529.5 513.2,527.8C512.9,526.2 512.5,523.1 512.8,521.9Z" fill="#3a2a20" opacity="0.8"/>
<polygon points="516.8,521.2 543.0,521.2 543.0,524.0 516.8,524.0" fill="#6a1a12" opacity="1"/>
<polygon points="518.1,524.0 542.4,524.0 539.8,540.6 520.0,540.6" fill="url(#gP)" opacity="1"/>
<path d="M520.3,529.4C520.5,529.0 522.5,529.4 523.3,530.1C524.1,530.7 525.2,532.6 525.0,533.1C524.8,533.5 522.9,533.3 522.2,532.7C521.4,532.1 520.1,529.8 520.3,529.4Z" fill="#a99ac0" opacity="0.65"/>
<path d="M526.6,533.1C527.1,532.6 530.0,532.9 530.8,533.6C531.7,534.3 532.1,536.8 531.6,537.3C531.2,537.7 529.0,537.1 528.2,536.4C527.4,535.7 526.2,533.5 526.6,533.1Z" fill="#9888b0" opacity="0.5"/>
<polygon points="516.1,542.5 543.0,542.5 543.0,544.9 516.1,544.9" fill="#f4f8ff" opacity="1"/>
<polygon points="614.2,458.5 615.1,458.9 615.5,478.3 613.4,478.3" fill="#3f7a55" opacity="1"/>
<polyline points="613.1,477.6 613.6,499.9 614.2,519.0" fill="none" stroke="#3a764c" stroke-width="1.6" stroke-linecap="round" stroke-linejoin="round"/>
<polyline points="613.4,493.4 605.5,488.1" fill="none" stroke="#3a764c" stroke-width="0.9" stroke-linecap="round" stroke-linejoin="round"/>
<polyline points="613.6,494.7 621.2,488.8" fill="none" stroke="#3a764c" stroke-width="0.9" stroke-linecap="round" stroke-linejoin="round"/>
<polyline points="613.6,490.7 619.9,480.9" fill="none" stroke="#3a764c" stroke-width="0.9" stroke-linecap="round" stroke-linejoin="round"/>
<path d="M579.2,491.4C579.2,490.7 580.7,487.0 582.5,485.5C584.2,483.9 587.4,482.9 589.7,482.2C592.0,481.5 595.1,481.1 596.3,481.5C597.5,482.0 598.3,483.9 596.9,484.8C595.6,485.7 590.8,486.0 588.4,486.8C586.0,487.6 584.0,488.7 582.5,489.4C581.0,490.2 579.2,492.0 579.2,491.4Z" fill="#27756c" opacity="1"/>
<path d="M584.5,490.7C584.5,490.1 587.6,488.0 589.7,487.5C591.8,486.9 595.8,487.1 596.9,487.5C598.0,487.8 597.5,488.8 596.3,489.4C595.1,490.1 591.7,491.2 589.7,491.4C587.7,491.6 584.5,491.4 584.5,490.7Z" fill="#37783f" opacity="1"/>
<path d="M595.6,479.6C596.8,477.9 601.0,478.5 604.2,478.3C607.3,478.0 612.6,477.8 614.7,478.3C616.8,478.7 617.3,479.9 616.6,480.9C616.0,481.9 612.6,482.9 610.7,484.2C608.9,485.5 607.1,487.3 605.5,488.8C603.8,490.2 602.3,492.8 600.9,492.7C599.5,492.6 597.8,490.3 596.9,488.1C596.1,485.9 594.4,481.2 595.6,479.6Z" fill="url(#gG2)" opacity="1"/>
<path d="M598.3,480.9C599.5,479.6 604.9,479.3 606.8,479.6C608.7,479.8 610.1,480.6 609.4,482.2C608.8,483.8 604.5,488.5 602.9,489.4C601.2,490.3 600.3,488.9 599.6,487.5C598.8,486.0 597.0,482.2 598.3,480.9Z" fill="#3f9590" opacity="0.55"/>
<path d="M618.6,478.3C618.7,477.4 619.5,476.4 621.2,476.3C623.0,476.2 626.3,476.8 629.1,477.6C632.0,478.4 637.2,480.1 638.3,480.9C639.4,481.6 637.7,482.2 635.7,482.2C633.7,482.2 629.0,481.0 626.5,480.9C624.0,480.8 621.9,482.0 620.6,481.5C619.3,481.1 618.5,479.1 618.6,478.3Z" fill="url(#gT2)" opacity="1"/>
<path d="M620.6,488.1C621.4,487.2 623.5,485.6 626.5,484.8C629.5,484.1 634.8,483.4 638.3,483.5C641.8,483.6 645.0,484.5 647.5,485.5C650.0,486.5 653.7,489.1 653.4,489.4C653.2,489.8 649.2,488.0 646.2,487.5C643.3,486.9 638.8,486.1 635.7,486.1C632.6,486.1 630.1,486.8 627.8,487.5C625.5,488.1 623.1,490.0 621.9,490.1C620.7,490.2 619.8,489.0 620.6,488.1Z" fill="#2d7d62" opacity="1"/>
<path d="M601.5,501.2C602.0,500.2 603.7,498.6 605.5,498.0C607.2,497.3 611.1,496.5 612.0,497.3C613.0,498.1 612.3,501.2 611.4,502.6C610.5,503.9 608.2,504.9 606.8,505.2C605.4,505.5 603.7,505.2 602.9,504.5C602.0,503.9 601.1,502.3 601.5,501.2Z" fill="#285c38" opacity="1"/>
<path d="M610.7,497.3C611.8,496.3 616.8,495.3 618.6,496.0C620.5,496.6 621.2,499.3 621.9,501.2C622.6,503.2 623.0,506.1 622.6,507.8C622.1,509.6 620.5,512.0 619.3,511.8C618.1,511.5 616.5,508.1 615.3,506.5C614.1,504.9 612.8,503.4 612.0,501.9C611.3,500.4 609.6,498.3 610.7,497.3Z" fill="url(#gG)" opacity="1"/>
<path d="M590.4,517.0C590.1,516.3 592.4,511.2 594.3,509.1C596.2,507.1 599.2,505.4 601.5,504.5C603.8,503.7 606.8,503.7 608.1,503.9C609.4,504.1 610.5,505.1 609.4,505.8C608.3,506.6 603.8,507.2 601.5,508.5C599.2,509.8 597.5,512.3 595.6,513.7C593.8,515.2 590.6,517.8 590.4,517.0Z" fill="#2d7843" opacity="1"/>
<path d="M622.6,506.5C622.8,506.0 626.3,506.8 627.8,507.8C629.4,508.8 631.2,510.7 631.8,512.4C632.3,514.2 631.5,517.8 631.1,518.3C630.7,518.9 629.9,516.9 629.1,515.7C628.4,514.5 627.6,512.6 626.5,511.1C625.4,509.6 622.3,507.1 622.6,506.5Z" fill="#38783e" opacity="1"/>
<path d="M629.4,513.1C629.7,512.6 631.2,512.9 631.5,513.7C631.8,514.6 631.6,517.9 631.2,518.3C630.9,518.8 629.7,517.2 629.4,516.4C629.1,515.5 629.0,513.5 629.4,513.1Z" fill="#9a5a2a" opacity="0.85"/>
<polygon points="599.6,518.6 627.8,518.6 627.6,521.7 600.0,521.7" fill="#6e1b13" opacity="1"/>
<polygon points="601.3,521.7 626.5,521.7 623.9,539.6 603.9,539.6" fill="url(#gP)" opacity="1"/>
<path d="M606.0,529.9C606.4,529.2 608.3,529.2 608.9,529.9C609.5,530.6 609.9,533.4 609.4,534.1C609.0,534.8 606.8,534.8 606.3,534.1C605.7,533.4 605.6,530.6 606.0,529.9Z" fill="#a88f98" opacity="0.45"/>
<path d="M619.1,529.4C619.6,528.4 621.5,528.1 622.0,528.8C622.6,529.5 623.0,532.6 622.6,533.6C622.1,534.5 620.0,535.3 619.4,534.6C618.8,533.9 618.7,530.3 619.1,529.4Z" fill="#a88f98" opacity="0.45"/>
<polygon points="600.5,540.3 627.4,540.3 627.4,542.6 600.5,542.6" fill="#f0f5ff" opacity="1"/>
</g>
<text x="527.50" y="570.80" font-size="11" text-anchor="middle" fill="#111" font-weight="bold">CK</text>
<text x="612.20" y="569.30" font-size="11" text-anchor="middle" fill="#111" font-weight="bold" textLength="64.5" lengthAdjust="spacingAndGlyphs">Bacillibactin</text>
<text x="0.30" y="602.00" font-size="15" text-anchor="start" fill="#111" font-weight="bold">e</text>
<rect x="74.50" y="662.50" width="29.00" height="100.00" fill="#c9c9c9" stroke="#2e2e2e" stroke-width="0.9"/>
<rect x="119.50" y="704.50" width="29.00" height="58.00" fill="#9fdae5" stroke="#2e2e2e" stroke-width="0.9"/>
<line x1="89.50" y1="641.70" x2="89.50" y2="683.20" stroke="#222" stroke-width="0.95" />
<line x1="84.50" y1="641.50" x2="93.50" y2="641.50" stroke="#222" stroke-width="0.95" />
<line x1="84.50" y1="683.50" x2="93.50" y2="683.50" stroke="#222" stroke-width="0.95" />
<line x1="133.50" y1="695.50" x2="133.50" y2="713.30" stroke="#222" stroke-width="0.95" />
<line x1="129.20" y1="695.50" x2="138.20" y2="695.50" stroke="#222" stroke-width="0.95" />
<line x1="129.20" y1="713.50" x2="138.20" y2="713.50" stroke="#222" stroke-width="0.95" />
<circle cx="85.90" cy="637.00" r="1.45" fill="#d2d2d2" stroke="#2c2c2c" stroke-width="0.8"/>
<circle cx="93.10" cy="647.80" r="1.45" fill="#d2d2d2" stroke="#2c2c2c" stroke-width="0.8"/>
<circle cx="99.20" cy="663.10" r="1.45" fill="#d2d2d2" stroke="#2c2c2c" stroke-width="0.8"/>
<circle cx="84.40" cy="676.40" r="1.45" fill="#d2d2d2" stroke="#2c2c2c" stroke-width="0.8"/>
<circle cx="83.10" cy="688.70" r="1.45" fill="#d2d2d2" stroke="#2c2c2c" stroke-width="0.8"/>
<circle cx="140.30" cy="691.50" r="1.45" fill="#b5e3ec" stroke="#263f4a" stroke-width="0.8"/>
<circle cx="123.80" cy="699.70" r="1.45" fill="#b5e3ec" stroke="#263f4a" stroke-width="0.8"/>
<circle cx="131.30" cy="706.50" r="1.45" fill="#b5e3ec" stroke="#263f4a" stroke-width="0.8"/>
<circle cx="143.40" cy="712.00" r="1.45" fill="#b5e3ec" stroke="#263f4a" stroke-width="0.8"/>
<circle cx="134.60" cy="713.30" r="1.45" fill="#b5e3ec" stroke="#263f4a" stroke-width="0.8"/>
<polyline points="62.30,599.30 160.70,599.30 160.70,762.30" fill="none" stroke="#626262" stroke-width="1.3"/>
<polyline points="62.30,598.65 62.30,762.30 161.35,762.30" fill="none" stroke="#222" stroke-width="1.35"/>
<line x1="58.30" y1="599.30" x2="62.30" y2="599.30" stroke="#222" stroke-width="1.05"/>
<text x="55.10" y="603.12" font-size="10.6" text-anchor="end" fill="#111">120</text>
<line x1="58.30" y1="639.90" x2="62.30" y2="639.90" stroke="#222" stroke-width="1.05"/>
<text x="55.10" y="643.72" font-size="10.6" text-anchor="end" fill="#111">90</text>
<line x1="58.30" y1="680.70" x2="62.30" y2="680.70" stroke="#222" stroke-width="1.05"/>
<text x="55.10" y="684.52" font-size="10.6" text-anchor="end" fill="#111">60</text>
<line x1="58.30" y1="721.60" x2="62.30" y2="721.60" stroke="#222" stroke-width="1.05"/>
<text x="55.10" y="725.42" font-size="10.6" text-anchor="end" fill="#111">30</text>
<line x1="58.30" y1="762.30" x2="62.30" y2="762.30" stroke="#222" stroke-width="1.05"/>
<text x="55.10" y="766.12" font-size="10.6" text-anchor="end" fill="#111">0</text>
<line x1="88.90" y1="762.30" x2="88.90" y2="766.90" stroke="#222" stroke-width="1.05"/>
<line x1="133.80" y1="762.30" x2="133.80" y2="766.90" stroke="#222" stroke-width="1.05"/>
<polyline points="88.40,630.90 88.40,624.40 135.10,624.40 135.10,630.90" fill="none" stroke="#222" stroke-width="0.7"/>
<text x="113.00" y="618.40" font-size="11" text-anchor="middle" fill="#111" textLength="46" lengthAdjust="spacingAndGlyphs"><tspan font-style="italic">p</tspan> = 0.008</text>
<text x="131.30" y="686.40" font-size="15" text-anchor="middle" fill="#111" font-weight="bold">*</text>
<text x="140.50" y="686.40" font-size="15" text-anchor="middle" fill="#111" font-weight="bold">*</text>
<text x="27.10" y="680.40" font-size="10.8" text-anchor="middle" fill="#111" transform="rotate(-90 27.10 680.40)" textLength="109.0" lengthAdjust="spacingAndGlyphs" dy="0.35em">Gall numbers per plant</text>
<text x="87.60" y="779.10" font-size="11" text-anchor="middle" fill="#111">CK</text>
<text x="134.30" y="779.10" font-size="11" text-anchor="middle" fill="#111" textLength="57.7" lengthAdjust="spacingAndGlyphs">Bacillibactin</text>
<rect x="241.50" y="651.50" width="30.00" height="111.00" fill="#c9c9c9" stroke="#2e2e2e" stroke-width="0.9"/>
<rect x="288.50" y="695.50" width="30.00" height="67.00" fill="#9fdae5" stroke="#2e2e2e" stroke-width="0.9"/>
<line x1="256.50" y1="630.90" x2="256.50" y2="671.10" stroke="#222" stroke-width="0.95" />
<line x1="251.70" y1="630.50" x2="260.70" y2="630.50" stroke="#222" stroke-width="0.95" />
<line x1="251.70" y1="671.50" x2="260.70" y2="671.50" stroke="#222" stroke-width="0.95" />
<line x1="303.50" y1="684.40" x2="303.50" y2="707.30" stroke="#222" stroke-width="0.95" />
<line x1="298.80" y1="684.50" x2="307.80" y2="684.50" stroke="#222" stroke-width="0.95" />
<line x1="298.80" y1="707.50" x2="307.80" y2="707.50" stroke="#222" stroke-width="0.95" />
<circle cx="263.40" cy="629.40" r="1.45" fill="#d2d2d2" stroke="#2c2c2c" stroke-width="0.8"/>
<circle cx="246.60" cy="635.50" r="1.45" fill="#d2d2d2" stroke="#2c2c2c" stroke-width="0.8"/>
<circle cx="266.70" cy="647.30" r="1.45" fill="#d2d2d2" stroke="#2c2c2c" stroke-width="0.8"/>
<circle cx="255.60" cy="671.60" r="1.45" fill="#d2d2d2" stroke="#2c2c2c" stroke-width="0.8"/>
<circle cx="267.90" cy="671.60" r="1.45" fill="#d2d2d2" stroke="#2c2c2c" stroke-width="0.8"/>
<circle cx="303.30" cy="683.40" r="1.45" fill="#b5e3ec" stroke="#263f4a" stroke-width="0.8"/>
<circle cx="309.60" cy="683.40" r="1.45" fill="#b5e3ec" stroke="#263f4a" stroke-width="0.8"/>
<circle cx="296.50" cy="701.70" r="1.45" fill="#b5e3ec" stroke="#263f4a" stroke-width="0.8"/>
<circle cx="308.60" cy="708.00" r="1.45" fill="#b5e3ec" stroke="#263f4a" stroke-width="0.8"/>
<polyline points="227.70,599.30 332.20,599.30 332.20,762.30" fill="none" stroke="#626262" stroke-width="1.3"/>
<polyline points="227.70,598.65 227.70,762.30 332.85,762.30" fill="none" stroke="#222" stroke-width="1.35"/>
<line x1="223.70" y1="610.90" x2="227.70" y2="610.90" stroke="#222" stroke-width="1.05"/>
<text x="220.50" y="614.72" font-size="10.6" text-anchor="end" fill="#111">25</text>
<line x1="223.70" y1="641.20" x2="227.70" y2="641.20" stroke="#222" stroke-width="1.05"/>
<text x="220.50" y="645.02" font-size="10.6" text-anchor="end" fill="#111">20</text>
<line x1="223.70" y1="671.60" x2="227.70" y2="671.60" stroke="#222" stroke-width="1.05"/>
<text x="220.50" y="675.42" font-size="10.6" text-anchor="end" fill="#111">15</text>
<line x1="223.70" y1="701.80" x2="227.70" y2="701.80" stroke="#222" stroke-width="1.05"/>
<text x="220.50" y="705.62" font-size="10.6" text-anchor="end" fill="#111">10</text>
<line x1="223.70" y1="732.10" x2="227.70" y2="732.10" stroke="#222" stroke-width="1.05"/>
<text x="220.50" y="735.92" font-size="10.6" text-anchor="end" fill="#111">5</text>
<line x1="223.70" y1="762.30" x2="227.70" y2="762.30" stroke="#222" stroke-width="1.05"/>
<text x="220.50" y="766.12" font-size="10.6" text-anchor="end" fill="#111">0</text>
<line x1="256.10" y1="762.30" x2="256.10" y2="766.90" stroke="#222" stroke-width="1.05"/>
<line x1="303.30" y1="762.30" x2="303.30" y2="766.90" stroke="#222" stroke-width="1.05"/>
<polyline points="255.60,626.40 255.60,620.10 302.30,620.10 302.30,626.40" fill="none" stroke="#222" stroke-width="0.7"/>
<text x="278.20" y="614.60" font-size="11" text-anchor="middle" fill="#111" textLength="46" lengthAdjust="spacingAndGlyphs"><tspan font-style="italic">p</tspan> = 0.004</text>
<text x="299.30" y="680.30" font-size="15" text-anchor="middle" fill="#111" font-weight="bold">*</text>
<text x="309.30" y="678.50" font-size="15" text-anchor="middle" fill="#111" font-weight="bold">*</text>
<text x="197.10" y="677.90" font-size="10.8" text-anchor="middle" fill="#111" transform="rotate(-90 197.10 677.90)" textLength="138.0" lengthAdjust="spacingAndGlyphs" dy="0.35em">Egg mass numbers per plant</text>
<text x="256.60" y="780.60" font-size="11" text-anchor="middle" fill="#111">CK</text>
<text x="303.00" y="780.60" font-size="11" text-anchor="middle" fill="#111" textLength="57.7" lengthAdjust="spacingAndGlyphs">Bacillibactin</text>
<rect x="420.50" y="642.50" width="30.00" height="119.00" fill="#c9c9c9" stroke="#2e2e2e" stroke-width="0.9"/>
<rect x="465.50" y="685.50" width="29.00" height="76.00" fill="#9fdae5" stroke="#2e2e2e" stroke-width="0.9"/>
<line x1="435.50" y1="631.40" x2="435.50" y2="654.30" stroke="#222" stroke-width="0.95" />
<line x1="430.60" y1="631.50" x2="439.60" y2="631.50" stroke="#222" stroke-width="0.95" />
<line x1="430.60" y1="654.50" x2="439.60" y2="654.50" stroke="#222" stroke-width="0.95" />
<line x1="479.50" y1="663.80" x2="479.50" y2="706.80" stroke="#222" stroke-width="0.95" />
<line x1="475.30" y1="663.50" x2="484.30" y2="663.50" stroke="#222" stroke-width="0.95" />
<line x1="475.30" y1="706.50" x2="484.30" y2="706.50" stroke="#222" stroke-width="0.95" />
<circle cx="440.40" cy="627.20" r="1.45" fill="#d2d2d2" stroke="#2c2c2c" stroke-width="0.8"/>
<circle cx="441.40" cy="636.20" r="1.45" fill="#d2d2d2" stroke="#2c2c2c" stroke-width="0.8"/>
<circle cx="430.90" cy="644.30" r="1.45" fill="#d2d2d2" stroke="#2c2c2c" stroke-width="0.8"/>
<circle cx="441.20" cy="650.30" r="1.45" fill="#d2d2d2" stroke="#2c2c2c" stroke-width="0.8"/>
<circle cx="445.70" cy="656.30" r="1.45" fill="#d2d2d2" stroke="#2c2c2c" stroke-width="0.8"/>
<circle cx="480.10" cy="651.00" r="1.45" fill="#8fcfe6" stroke="#263f4a" stroke-width="0.8"/>
<circle cx="488.60" cy="681.70" r="1.45" fill="#8fcfe6" stroke="#263f4a" stroke-width="0.8"/>
<circle cx="470.50" cy="687.70" r="1.45" fill="#b5e3ec" stroke="#263f4a" stroke-width="0.8"/>
<circle cx="469.80" cy="701.20" r="1.45" fill="#b5e3ec" stroke="#263f4a" stroke-width="0.8"/>
<circle cx="483.10" cy="705.00" r="1.45" fill="#b5e3ec" stroke="#263f4a" stroke-width="0.8"/>
<polyline points="408.80,598.30 506.90,598.30 506.90,761.80" fill="none" stroke="#626262" stroke-width="1.3"/>
<polyline points="408.80,597.65 408.80,761.80 507.55,761.80" fill="none" stroke="#222" stroke-width="1.35"/>
<line x1="404.80" y1="613.10" x2="408.80" y2="613.10" stroke="#222" stroke-width="1.05"/>
<text x="401.60" y="616.92" font-size="10.6" text-anchor="end" fill="#111">300</text>
<line x1="404.80" y1="662.60" x2="408.80" y2="662.60" stroke="#222" stroke-width="1.05"/>
<text x="401.60" y="666.42" font-size="10.6" text-anchor="end" fill="#111">200</text>
<line x1="404.80" y1="712.10" x2="408.80" y2="712.10" stroke="#222" stroke-width="1.05"/>
<text x="401.60" y="715.92" font-size="10.6" text-anchor="end" fill="#111">100</text>
<line x1="404.80" y1="761.80" x2="408.80" y2="761.80" stroke="#222" stroke-width="1.05"/>
<text x="401.60" y="765.62" font-size="10.6" text-anchor="end" fill="#111">0</text>
<line x1="434.90" y1="761.80" x2="434.90" y2="766.40" stroke="#222" stroke-width="1.05"/>
<line x1="479.80" y1="761.80" x2="479.80" y2="766.40" stroke="#222" stroke-width="1.05"/>
<polyline points="433.90,624.70 433.90,618.40 480.30,618.40 480.30,624.70" fill="none" stroke="#222" stroke-width="0.7"/>
<text x="458.00" y="612.60" font-size="11" text-anchor="middle" fill="#111" textLength="46" lengthAdjust="spacingAndGlyphs"><tspan font-style="italic">p</tspan> = 0.008</text>
<text x="472.80" y="643.90" font-size="15" text-anchor="middle" fill="#111" font-weight="bold">*</text>
<text x="482.60" y="643.90" font-size="15" text-anchor="middle" fill="#111" font-weight="bold">*</text>
<text x="370.10" y="680.00" font-size="10.8" text-anchor="middle" fill="#111" transform="rotate(-90 370.10 680.00)" textLength="160.0" lengthAdjust="spacingAndGlyphs" dy="0.35em">Nematode numbers per 10 g root</text>
<text x="432.60" y="777.90" font-size="11" text-anchor="middle" fill="#111">CK</text>
<text x="479.60" y="777.90" font-size="11" text-anchor="middle" fill="#111" textLength="57.7" lengthAdjust="spacingAndGlyphs">Bacillibactin</text>
<rect x="590.50" y="665.50" width="30.00" height="96.00" fill="#c9c9c9" stroke="#2e2e2e" stroke-width="0.9"/>
<rect x="635.50" y="649.50" width="29.00" height="112.00" fill="#9fdae5" stroke="#2e2e2e" stroke-width="0.9"/>
<line x1="605.50" y1="651.80" x2="605.50" y2="679.40" stroke="#222" stroke-width="0.95" />
<line x1="600.60" y1="651.50" x2="609.60" y2="651.50" stroke="#222" stroke-width="0.95" />
<line x1="600.60" y1="679.50" x2="609.60" y2="679.50" stroke="#222" stroke-width="0.95" />
<line x1="649.50" y1="634.20" x2="649.50" y2="664.30" stroke="#222" stroke-width="0.95" />
<line x1="645.30" y1="634.50" x2="654.30" y2="634.50" stroke="#222" stroke-width="0.95" />
<line x1="645.30" y1="664.50" x2="654.30" y2="664.50" stroke="#222" stroke-width="0.95" />
<circle cx="606.60" cy="644.00" r="1.45" fill="#d2d2d2" stroke="#2c2c2c" stroke-width="0.8"/>
<circle cx="596.10" cy="661.80" r="1.45" fill="#d2d2d2" stroke="#2c2c2c" stroke-width="0.8"/>
<circle cx="602.60" cy="671.10" r="1.45" fill="#d2d2d2" stroke="#2c2c2c" stroke-width="0.8"/>
<circle cx="610.40" cy="671.10" r="1.45" fill="#d2d2d2" stroke="#2c2c2c" stroke-width="0.8"/>
<circle cx="595.90" cy="680.40" r="1.45" fill="#d2d2d2" stroke="#2c2c2c" stroke-width="0.8"/>
<circle cx="653.90" cy="634.70" r="1.45" fill="#8fcfe6" stroke="#263f4a" stroke-width="0.8"/>
<circle cx="659.10" cy="634.70" r="1.45" fill="#8fcfe6" stroke="#263f4a" stroke-width="0.8"/>
<circle cx="639.50" cy="652.80" r="1.45" fill="#b5e3ec" stroke="#263f4a" stroke-width="0.8"/>
<circle cx="650.60" cy="652.80" r="1.45" fill="#b5e3ec" stroke="#263f4a" stroke-width="0.8"/>
<circle cx="658.40" cy="671.10" r="1.45" fill="#b5e3ec" stroke="#263f4a" stroke-width="0.8"/>
<polyline points="578.80,598.80 676.90,598.80 676.90,761.80" fill="none" stroke="#626262" stroke-width="1.3"/>
<polyline points="578.80,598.15 578.80,761.80 677.55,761.80" fill="none" stroke="#222" stroke-width="1.35"/>
<line x1="574.80" y1="625.40" x2="578.80" y2="625.40" stroke="#222" stroke-width="1.05"/>
<text x="571.60" y="629.22" font-size="10.6" text-anchor="end" fill="#111">150</text>
<line x1="574.80" y1="670.90" x2="578.80" y2="670.90" stroke="#222" stroke-width="1.05"/>
<text x="571.60" y="674.72" font-size="10.6" text-anchor="end" fill="#111">100</text>
<line x1="574.80" y1="716.30" x2="578.80" y2="716.30" stroke="#222" stroke-width="1.05"/>
<text x="571.60" y="720.12" font-size="10.6" text-anchor="end" fill="#111">50</text>
<line x1="574.80" y1="761.80" x2="578.80" y2="761.80" stroke="#222" stroke-width="1.05"/>
<text x="571.60" y="765.62" font-size="10.6" text-anchor="end" fill="#111">0</text>
<line x1="604.90" y1="761.80" x2="604.90" y2="766.40" stroke="#222" stroke-width="1.05"/>
<line x1="649.80" y1="761.80" x2="649.80" y2="766.40" stroke="#222" stroke-width="1.05"/>
<polyline points="604.60,630.70 604.60,623.90 651.30,623.90 651.30,630.70" fill="none" stroke="#222" stroke-width="0.7"/>
<text x="626.50" y="615.90" font-size="11" text-anchor="middle" fill="#111" textLength="46" lengthAdjust="spacingAndGlyphs"><tspan font-style="italic">p</tspan> = 0.113</text>
<text x="541.40" y="679.80" font-size="10.8" text-anchor="middle" fill="#111" transform="rotate(-90 541.40 679.80)" textLength="147.0" lengthAdjust="spacingAndGlyphs" dy="0.35em">Fresh weight of shoot (g/plant)</text>
<text x="605.10" y="777.30" font-size="11" text-anchor="middle" fill="#111">CK</text>
<text x="649.60" y="777.30" font-size="11" text-anchor="middle" fill="#111" textLength="57.7" lengthAdjust="spacingAndGlyphs">Bacillibactin</text>
<text x="2.30" y="803.30" font-size="15" text-anchor="start" fill="#111" font-weight="bold">f</text>
<rect x="73.50" y="862.50" width="29.00" height="110.00" fill="#c9c9c9" stroke="#2e2e2e" stroke-width="0.9"/>
<rect x="118.50" y="918.50" width="29.00" height="54.00" fill="#9fdae5" stroke="#2e2e2e" stroke-width="0.9"/>
<line x1="88.50" y1="844.30" x2="88.50" y2="880.20" stroke="#222" stroke-width="0.95" />
<line x1="83.60" y1="844.50" x2="92.60" y2="844.50" stroke="#222" stroke-width="0.95" />
<line x1="83.60" y1="880.50" x2="92.60" y2="880.50" stroke="#222" stroke-width="0.95" />
<line x1="133.50" y1="902.00" x2="133.50" y2="935.40" stroke="#222" stroke-width="0.95" />
<line x1="128.60" y1="902.50" x2="137.60" y2="902.50" stroke="#222" stroke-width="0.95" />
<line x1="128.60" y1="935.50" x2="137.60" y2="935.50" stroke="#222" stroke-width="0.95" />
<circle cx="93.40" cy="843.00" r="1.45" fill="#d2d2d2" stroke="#2c2c2c" stroke-width="0.8"/>
<circle cx="80.80" cy="855.80" r="1.45" fill="#d2d2d2" stroke="#2c2c2c" stroke-width="0.8"/>
<circle cx="83.60" cy="857.30" r="1.45" fill="#d2d2d2" stroke="#2c2c2c" stroke-width="0.8"/>
<circle cx="84.90" cy="863.80" r="1.45" fill="#d2d2d2" stroke="#2c2c2c" stroke-width="0.8"/>
<circle cx="87.90" cy="891.20" r="1.45" fill="#d2d2d2" stroke="#2c2c2c" stroke-width="0.8"/>
<circle cx="135.10" cy="901.50" r="1.45" fill="#8fcfe6" stroke="#263f4a" stroke-width="0.8"/>
<circle cx="139.60" cy="905.80" r="1.45" fill="#b5e3ec" stroke="#263f4a" stroke-width="0.8"/>
<circle cx="135.30" cy="918.80" r="1.45" fill="#b5e3ec" stroke="#263f4a" stroke-width="0.8"/>
<circle cx="122.30" cy="925.10" r="1.45" fill="#b5e3ec" stroke="#263f4a" stroke-width="0.8"/>
<circle cx="122.30" cy="943.40" r="1.45" fill="#b5e3ec" stroke="#263f4a" stroke-width="0.8"/>
<polyline points="61.50,809.10 159.90,809.10 159.90,972.00" fill="none" stroke="#626262" stroke-width="1.3"/>
<polyline points="61.50,808.45 61.50,972.00 160.55,972.00" fill="none" stroke="#222" stroke-width="1.35"/>
<line x1="57.50" y1="809.10" x2="61.50" y2="809.10" stroke="#222" stroke-width="1.05"/>
<text x="54.30" y="812.92" font-size="10.6" text-anchor="end" fill="#111">125</text>
<line x1="57.50" y1="841.70" x2="61.50" y2="841.70" stroke="#222" stroke-width="1.05"/>
<text x="54.30" y="845.52" font-size="10.6" text-anchor="end" fill="#111">100</text>
<line x1="57.50" y1="874.20" x2="61.50" y2="874.20" stroke="#222" stroke-width="1.05"/>
<text x="54.30" y="878.02" font-size="10.6" text-anchor="end" fill="#111">75</text>
<line x1="57.50" y1="906.80" x2="61.50" y2="906.80" stroke="#222" stroke-width="1.05"/>
<text x="54.30" y="910.62" font-size="10.6" text-anchor="end" fill="#111">50</text>
<line x1="57.50" y1="939.40" x2="61.50" y2="939.40" stroke="#222" stroke-width="1.05"/>
<text x="54.30" y="943.22" font-size="10.6" text-anchor="end" fill="#111">25</text>
<line x1="57.50" y1="972.00" x2="61.50" y2="972.00" stroke="#222" stroke-width="1.05"/>
<text x="54.30" y="975.82" font-size="10.6" text-anchor="end" fill="#111">0</text>
<line x1="87.90" y1="972.00" x2="87.90" y2="976.60" stroke="#222" stroke-width="1.05"/>
<line x1="133.10" y1="972.00" x2="133.10" y2="976.60" stroke="#222" stroke-width="1.05"/>
<polyline points="87.40,839.70 87.40,833.70 134.10,833.70 134.10,839.70" fill="none" stroke="#222" stroke-width="0.7"/>
<text x="110.70" y="827.70" font-size="11" text-anchor="middle" fill="#111" textLength="46" lengthAdjust="spacingAndGlyphs"><tspan font-style="italic">p</tspan> &lt; 0.001</text>
<text x="125.30" y="898.90" font-size="15" text-anchor="middle" fill="#111" font-weight="bold">*</text>
<text x="132.60" y="898.90" font-size="15" text-anchor="middle" fill="#111" font-weight="bold">*</text>
<text x="139.90" y="898.90" font-size="15" text-anchor="middle" fill="#111" font-weight="bold">*</text>
<text x="26.40" y="900.20" font-size="10.8" text-anchor="middle" fill="#111" transform="rotate(-90 26.40 900.20)" textLength="109.7" lengthAdjust="spacingAndGlyphs" dy="0.35em">Gall numbers per plant</text>
<text x="87.90" y="986.90" font-size="11" text-anchor="middle" fill="#111">CK</text>
<text x="132.60" y="986.90" font-size="11" text-anchor="middle" fill="#111" textLength="57.7" lengthAdjust="spacingAndGlyphs">Bacillibactin</text>
<rect x="240.50" y="861.50" width="31.00" height="109.00" fill="#c9c9c9" stroke="#2e2e2e" stroke-width="0.9"/>
<rect x="287.50" y="917.50" width="31.00" height="53.00" fill="#9fdae5" stroke="#2e2e2e" stroke-width="0.9"/>
<line x1="256.50" y1="839.00" x2="256.50" y2="884.40" stroke="#222" stroke-width="0.95" />
<line x1="251.50" y1="839.50" x2="260.50" y2="839.50" stroke="#222" stroke-width="0.95" />
<line x1="251.50" y1="884.50" x2="260.50" y2="884.50" stroke="#222" stroke-width="0.95" />
<line x1="303.50" y1="903.50" x2="303.50" y2="930.90" stroke="#222" stroke-width="0.95" />
<line x1="298.50" y1="903.50" x2="307.50" y2="903.50" stroke="#222" stroke-width="0.95" />
<line x1="298.50" y1="930.50" x2="307.50" y2="930.50" stroke="#222" stroke-width="0.95" />
<circle cx="246.60" cy="839.70" r="1.45" fill="#d2d2d2" stroke="#2c2c2c" stroke-width="0.8"/>
<circle cx="261.60" cy="850.80" r="1.45" fill="#d2d2d2" stroke="#2c2c2c" stroke-width="0.8"/>
<circle cx="257.40" cy="856.30" r="1.45" fill="#d2d2d2" stroke="#2c2c2c" stroke-width="0.8"/>
<circle cx="255.90" cy="861.80" r="1.45" fill="#d2d2d2" stroke="#2c2c2c" stroke-width="0.8"/>
<circle cx="252.10" cy="900.00" r="1.45" fill="#d2d2d2" stroke="#2c2c2c" stroke-width="0.8"/>
<circle cx="311.30" cy="905.30" r="1.45" fill="#8fcfe6" stroke="#263f4a" stroke-width="0.8"/>
<circle cx="294.00" cy="916.10" r="1.45" fill="#8fcfe6" stroke="#263f4a" stroke-width="0.8"/>
<circle cx="314.40" cy="921.80" r="1.45" fill="#b5e3ec" stroke="#263f4a" stroke-width="0.8"/>
<circle cx="307.10" cy="938.20" r="1.45" fill="#b5e3ec" stroke="#263f4a" stroke-width="0.8"/>
<polyline points="226.70,807.60 331.70,807.60 331.70,970.50" fill="none" stroke="#626262" stroke-width="1.3"/>
<polyline points="226.70,806.95 226.70,970.50 332.35,970.50" fill="none" stroke="#222" stroke-width="1.35"/>
<line x1="222.70" y1="807.60" x2="226.70" y2="807.60" stroke="#222" stroke-width="1.05"/>
<text x="219.50" y="811.42" font-size="10.6" text-anchor="end" fill="#111">30</text>
<line x1="222.70" y1="861.80" x2="226.70" y2="861.80" stroke="#222" stroke-width="1.05"/>
<text x="219.50" y="865.62" font-size="10.6" text-anchor="end" fill="#111">20</text>
<line x1="222.70" y1="916.10" x2="226.70" y2="916.10" stroke="#222" stroke-width="1.05"/>
<text x="219.50" y="919.92" font-size="10.6" text-anchor="end" fill="#111">10</text>
<line x1="222.70" y1="970.50" x2="226.70" y2="970.50" stroke="#222" stroke-width="1.05"/>
<text x="219.50" y="974.32" font-size="10.6" text-anchor="end" fill="#111">0</text>
<line x1="255.90" y1="970.50" x2="255.90" y2="975.10" stroke="#222" stroke-width="1.05"/>
<line x1="302.80" y1="970.50" x2="302.80" y2="975.10" stroke="#222" stroke-width="1.05"/>
<polyline points="255.10,833.70 255.10,827.70 301.80,827.70 301.80,833.70" fill="none" stroke="#222" stroke-width="0.7"/>
<text x="278.70" y="822.70" font-size="11" text-anchor="middle" fill="#111" textLength="46" lengthAdjust="spacingAndGlyphs"><tspan font-style="italic">p</tspan> = 0.003</text>
<text x="298.60" y="901.90" font-size="15" text-anchor="middle" fill="#111" font-weight="bold">*</text>
<text x="304.60" y="901.90" font-size="15" text-anchor="middle" fill="#111" font-weight="bold">*</text>
<text x="196.40" y="888.80" font-size="10.8" text-anchor="middle" fill="#111" transform="rotate(-90 196.40 888.80)" textLength="159.0" lengthAdjust="spacingAndGlyphs" dy="0.35em">Egg mass numbers per 10 g root</text>
<text x="256.60" y="985.90" font-size="11" text-anchor="middle" fill="#111">CK</text>
<text x="302.80" y="985.90" font-size="11" text-anchor="middle" fill="#111" textLength="57.7" lengthAdjust="spacingAndGlyphs">Bacillibactin</text>
<rect x="418.50" y="858.50" width="30.00" height="112.00" fill="#c9c9c9" stroke="#2e2e2e" stroke-width="0.9"/>
<rect x="463.50" y="892.50" width="29.00" height="78.00" fill="#9fdae5" stroke="#2e2e2e" stroke-width="0.9"/>
<line x1="433.50" y1="831.20" x2="433.50" y2="886.40" stroke="#222" stroke-width="0.95" />
<line x1="429.00" y1="831.50" x2="438.00" y2="831.50" stroke="#222" stroke-width="0.95" />
<line x1="429.00" y1="886.50" x2="438.00" y2="886.50" stroke="#222" stroke-width="0.95" />
<line x1="478.50" y1="887.20" x2="478.50" y2="898.20" stroke="#222" stroke-width="0.95" />
<line x1="473.70" y1="887.50" x2="482.70" y2="887.50" stroke="#222" stroke-width="0.95" />
<line x1="473.70" y1="898.50" x2="482.70" y2="898.50" stroke="#222" stroke-width="0.95" />
<circle cx="437.10" cy="839.00" r="1.45" fill="#d2d2d2" stroke="#2c2c2c" stroke-width="0.8"/>
<circle cx="440.40" cy="841.50" r="1.45" fill="#d2d2d2" stroke="#2c2c2c" stroke-width="0.8"/>
<circle cx="423.80" cy="848.50" r="1.45" fill="#d2d2d2" stroke="#2c2c2c" stroke-width="0.8"/>
<circle cx="432.60" cy="858.10" r="1.45" fill="#d2d2d2" stroke="#2c2c2c" stroke-width="0.8"/>
<circle cx="442.20" cy="906.50" r="1.45" fill="#d2d2d2" stroke="#2c2c2c" stroke-width="0.8"/>
<circle cx="477.60" cy="883.40" r="1.45" fill="#8fcfe6" stroke="#263f4a" stroke-width="0.8"/>
<circle cx="481.30" cy="891.00" r="1.45" fill="#8fcfe6" stroke="#263f4a" stroke-width="0.8"/>
<circle cx="487.40" cy="895.00" r="1.45" fill="#b5e3ec" stroke="#263f4a" stroke-width="0.8"/>
<circle cx="468.30" cy="896.70" r="1.45" fill="#b5e3ec" stroke="#263f4a" stroke-width="0.8"/>
<circle cx="471.00" cy="896.70" r="1.45" fill="#b5e3ec" stroke="#263f4a" stroke-width="0.8"/>
<polyline points="406.50,807.60 504.70,807.60 504.70,970.30" fill="none" stroke="#626262" stroke-width="1.3"/>
<polyline points="406.50,806.95 406.50,970.30 505.35,970.30" fill="none" stroke="#222" stroke-width="1.35"/>
<line x1="402.50" y1="830.40" x2="406.50" y2="830.40" stroke="#222" stroke-width="1.05"/>
<text x="399.30" y="834.22" font-size="10.6" text-anchor="end" fill="#111">300</text>
<line x1="402.50" y1="876.90" x2="406.50" y2="876.90" stroke="#222" stroke-width="1.05"/>
<text x="399.30" y="880.72" font-size="10.6" text-anchor="end" fill="#111">200</text>
<line x1="402.50" y1="923.60" x2="406.50" y2="923.60" stroke="#222" stroke-width="1.05"/>
<text x="399.30" y="927.42" font-size="10.6" text-anchor="end" fill="#111">100</text>
<line x1="402.50" y1="970.30" x2="406.50" y2="970.30" stroke="#222" stroke-width="1.05"/>
<text x="399.30" y="974.12" font-size="10.6" text-anchor="end" fill="#111">0</text>
<line x1="433.40" y1="970.30" x2="433.40" y2="974.90" stroke="#222" stroke-width="1.05"/>
<line x1="478.10" y1="970.30" x2="478.10" y2="974.90" stroke="#222" stroke-width="1.05"/>
<polyline points="432.90,827.70 432.90,821.70 479.60,821.70 479.60,827.70" fill="none" stroke="#222" stroke-width="0.7"/>
<text x="456.00" y="818.10" font-size="11" text-anchor="middle" fill="#111" textLength="46" lengthAdjust="spacingAndGlyphs"><tspan font-style="italic">p</tspan> = 0.051</text>
<text x="368.90" y="888.60" font-size="10.8" text-anchor="middle" fill="#111" transform="rotate(-90 368.90 888.60)" textLength="159.4" lengthAdjust="spacingAndGlyphs" dy="0.35em">Nematode numbers per 10 g root</text>
<text x="432.90" y="985.90" font-size="11" text-anchor="middle" fill="#111">CK</text>
<text x="478.10" y="985.90" font-size="11" text-anchor="middle" fill="#111" textLength="57.7" lengthAdjust="spacingAndGlyphs">Bacillibactin</text>
<rect x="590.50" y="875.50" width="29.00" height="96.00" fill="#c9c9c9" stroke="#2e2e2e" stroke-width="0.9"/>
<rect x="634.50" y="842.50" width="29.00" height="129.00" fill="#9fdae5" stroke="#2e2e2e" stroke-width="0.9"/>
<line x1="604.50" y1="860.10" x2="604.50" y2="890.70" stroke="#222" stroke-width="0.95" />
<line x1="600.40" y1="860.50" x2="609.40" y2="860.50" stroke="#222" stroke-width="0.95" />
<line x1="600.40" y1="890.50" x2="609.40" y2="890.50" stroke="#222" stroke-width="0.95" />
<line x1="649.50" y1="828.40" x2="649.50" y2="856.30" stroke="#222" stroke-width="0.95" />
<line x1="644.80" y1="828.50" x2="653.80" y2="828.50" stroke="#222" stroke-width="0.95" />
<line x1="644.80" y1="856.50" x2="653.80" y2="856.50" stroke="#222" stroke-width="0.95" />
<circle cx="615.40" cy="859.10" r="1.45" fill="#d2d2d2" stroke="#2c2c2c" stroke-width="0.8"/>
<circle cx="600.10" cy="869.40" r="1.45" fill="#d2d2d2" stroke="#2c2c2c" stroke-width="0.8"/>
<circle cx="606.90" cy="879.40" r="1.45" fill="#d2d2d2" stroke="#2c2c2c" stroke-width="0.8"/>
<circle cx="611.40" cy="900.00" r="1.45" fill="#d2d2d2" stroke="#2c2c2c" stroke-width="0.8"/>
<circle cx="645.30" cy="828.40" r="1.45" fill="#b5e3ec" stroke="#263f4a" stroke-width="0.8"/>
<circle cx="653.10" cy="828.40" r="1.45" fill="#b5e3ec" stroke="#263f4a" stroke-width="0.8"/>
<circle cx="648.60" cy="848.80" r="1.45" fill="#b5e3ec" stroke="#263f4a" stroke-width="0.8"/>
<circle cx="658.90" cy="848.80" r="1.45" fill="#b5e3ec" stroke="#263f4a" stroke-width="0.8"/>
<circle cx="644.10" cy="859.10" r="1.45" fill="#b5e3ec" stroke="#263f4a" stroke-width="0.8"/>
<polyline points="578.80,808.10 676.90,808.10 676.90,971.30" fill="none" stroke="#626262" stroke-width="1.3"/>
<polyline points="578.80,807.45 578.80,971.30 677.55,971.30" fill="none" stroke="#222" stroke-width="1.35"/>
<line x1="574.80" y1="808.10" x2="578.80" y2="808.10" stroke="#222" stroke-width="1.05"/>
<text x="571.60" y="811.92" font-size="10.6" text-anchor="end" fill="#111">160</text>
<line x1="574.80" y1="848.80" x2="578.80" y2="848.80" stroke="#222" stroke-width="1.05"/>
<text x="571.60" y="852.62" font-size="10.6" text-anchor="end" fill="#111">120</text>
<line x1="574.80" y1="889.70" x2="578.80" y2="889.70" stroke="#222" stroke-width="1.05"/>
<text x="571.60" y="893.52" font-size="10.6" text-anchor="end" fill="#111">80</text>
<line x1="574.80" y1="930.50" x2="578.80" y2="930.50" stroke="#222" stroke-width="1.05"/>
<text x="571.60" y="934.32" font-size="10.6" text-anchor="end" fill="#111">40</text>
<line x1="574.80" y1="971.30" x2="578.80" y2="971.30" stroke="#222" stroke-width="1.05"/>
<text x="571.60" y="975.12" font-size="10.6" text-anchor="end" fill="#111">0</text>
<line x1="604.90" y1="971.30" x2="604.90" y2="975.90" stroke="#222" stroke-width="1.05"/>
<line x1="648.80" y1="971.30" x2="648.80" y2="975.90" stroke="#222" stroke-width="1.05"/>
<polyline points="602.90,827.70 602.90,821.70 649.60,821.70 649.60,827.70" fill="none" stroke="#222" stroke-width="0.7"/>
<text x="626.50" y="818.10" font-size="11" text-anchor="middle" fill="#111" textLength="46" lengthAdjust="spacingAndGlyphs"><tspan font-style="italic">p</tspan> = 0.008</text>
<text x="598.90" y="857.70" font-size="15" text-anchor="middle" fill="#111" font-weight="bold">*</text>
<text x="607.90" y="857.70" font-size="15" text-anchor="middle" fill="#111" font-weight="bold">*</text>
<text x="541.40" y="889.60" font-size="10.8" text-anchor="middle" fill="#111" transform="rotate(-90 541.40 889.60)" textLength="146.5" lengthAdjust="spacingAndGlyphs" dy="0.35em">Fresh weight of shoot (g/plant)</text>
<text x="605.10" y="986.60" font-size="11" text-anchor="middle" fill="#111">CK</text>
<text x="649.30" y="986.60" font-size="11" text-anchor="middle" fill="#111" textLength="57.7" lengthAdjust="spacingAndGlyphs">Bacillibactin</text>
</svg>
</body></html>
